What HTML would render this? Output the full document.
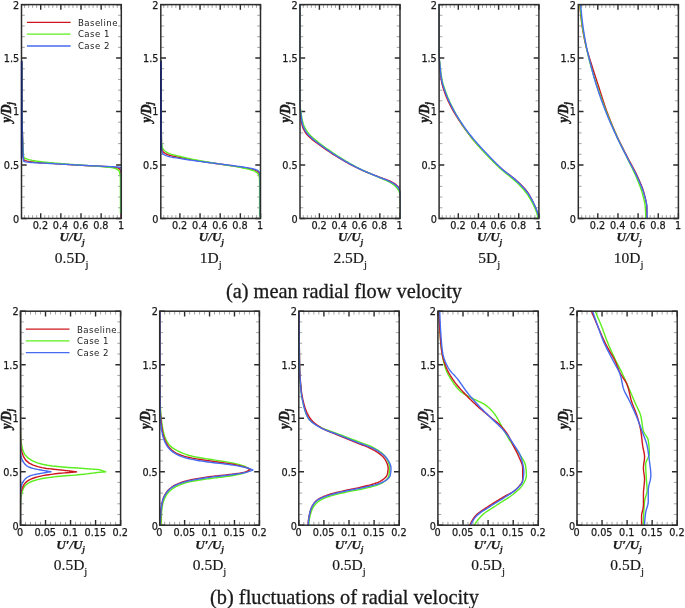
<!DOCTYPE html>
<html lang="en">
<head>
<meta charset="utf-8">
<title>Radial velocity profiles</title>
<style>
html,body{margin:0;padding:0;background:#fff;}
body{width:685px;height:608px;overflow:hidden;}
svg{display:block;}
svg text{fill:#1a1a1a;}
.tk{font-family:"DejaVu Sans", "Liberation Sans", sans-serif;font-size:9.7px;stroke:#1a1a1a;stroke-width:0.25px;}
.lg{font-family:"DejaVu Sans", "Liberation Sans", sans-serif;font-size:8.6px;letter-spacing:0.45px;}
.at{font-family:"Liberation Serif", "DejaVu Serif", serif;font-size:13.2px;font-weight:bold;font-style:italic;stroke:#1a1a1a;stroke-width:0.25px;}
.ay{font-family:"Liberation Serif", "DejaVu Serif", serif;font-size:12.4px;font-weight:bold;font-style:italic;stroke:#1a1a1a;stroke-width:0.45px;}
.sy{font-size:8.4px;}
.sb{font-size:8.2px;}
.lb{font-family:"Liberation Serif", "DejaVu Serif", serif;font-size:15.5px;stroke:#1a1a1a;stroke-width:0.2px;}
.ls{font-size:10.8px;}
.cp{font-family:"Liberation Serif", "DejaVu Serif", serif;font-size:20.35px;stroke:#1a1a1a;stroke-width:0.3px;}
</style>
</head>
<body>
<svg width="685" height="608" viewBox="0 0 685 608">
<rect width="685" height="608" fill="#fff"/>
<clipPath id="ct0"><rect x="20.9" y="4" width="101" height="215.05"/></clipPath>
<path d="M21.5 207.76h3.3M121.3 207.76h-3.3M21.5 197.06h3.3M121.3 197.06h-3.3M21.5 186.37h3.3M121.3 186.37h-3.3M21.5 175.68h3.3M121.3 175.68h-3.3M21.5 154.29h3.3M121.3 154.29h-3.3M21.5 143.6h3.3M121.3 143.6h-3.3M21.5 132.91h3.3M121.3 132.91h-3.3M21.5 122.22h3.3M121.3 122.22h-3.3M21.5 100.83h3.3M121.3 100.83h-3.3M21.5 90.14h3.3M121.3 90.14h-3.3M21.5 79.45h3.3M121.3 79.45h-3.3M21.5 68.75h3.3M121.3 68.75h-3.3M21.5 47.37h3.3M121.3 47.37h-3.3M21.5 36.68h3.3M121.3 36.68h-3.3M21.5 25.98h3.3M121.3 25.98h-3.3M21.5 15.29h3.3M121.3 15.29h-3.3M24.58 218.45v-3.3M24.58 4.6v3.3M28.61 218.45v-3.3M28.61 4.6v3.3M32.64 218.45v-3.3M32.64 4.6v3.3M36.67 218.45v-3.3M36.67 4.6v3.3M44.73 218.45v-3.3M44.73 4.6v3.3M48.76 218.45v-3.3M48.76 4.6v3.3M52.79 218.45v-3.3M52.79 4.6v3.3M56.82 218.45v-3.3M56.82 4.6v3.3M64.88 218.45v-3.3M64.88 4.6v3.3M68.91 218.45v-3.3M68.91 4.6v3.3M72.94 218.45v-3.3M72.94 4.6v3.3M76.97 218.45v-3.3M76.97 4.6v3.3M85.03 218.45v-3.3M85.03 4.6v3.3M89.06 218.45v-3.3M89.06 4.6v3.3M93.09 218.45v-3.3M93.09 4.6v3.3M97.12 218.45v-3.3M97.12 4.6v3.3M105.18 218.45v-3.3M105.18 4.6v3.3M109.21 218.45v-3.3M109.21 4.6v3.3M113.24 218.45v-3.3M113.24 4.6v3.3M117.27 218.45v-3.3M117.27 4.6v3.3" stroke="#9a9a9a" stroke-width="0.9" fill="none"/>
<path d="M21.5 218.45h5.2M121.3 218.45h-5.2M21.5 164.99h5.2M121.3 164.99h-5.2M21.5 111.52h5.2M121.3 111.52h-5.2M21.5 58.06h5.2M121.3 58.06h-5.2M21.5 4.6h5.2M121.3 4.6h-5.2M40.7 218.45v-5.2M40.7 4.6v5.2M60.85 218.45v-5.2M60.85 4.6v5.2M81 218.45v-5.2M81 4.6v5.2M101.15 218.45v-5.2M101.15 4.6v5.2M121.3 218.45v-5.2M121.3 4.6v5.2" stroke="#2c2c2c" stroke-width="1.4" fill="none"/>
<g clip-path="url(#ct0)" fill="none" stroke-width="1.4" stroke-linejoin="round" stroke-linecap="round">
<path d="M21.86 61.27 L21.86 62.52 L21.86 63.77 L21.86 65.02 L21.86 66.27 L21.86 67.51 L21.86 68.76 L21.86 70.01 L21.86 71.26 L21.86 72.51 L21.87 73.76 L21.87 75.01 L21.87 76.25 L21.87 77.5 L21.87 78.75 L21.87 80 L21.88 81.25 L21.88 82.5 L21.88 83.75 L21.88 84.99 L21.88 86.24 L21.89 87.49 L21.89 88.74 L21.89 89.99 L21.9 91.24 L21.9 92.49 L21.9 93.73 L21.91 94.98 L21.91 96.23 L21.91 97.48 L21.92 98.73 L21.92 99.98 L21.92 101.22 L21.93 102.47 L21.93 103.72 L21.94 104.97 L21.94 106.22 L21.94 107.47 L21.95 108.71 L21.95 109.96 L21.96 111.21 L21.97 112.46 L21.97 113.71 L21.99 114.96 L22 116.2 L22.02 117.45 L22.04 118.7 L22.06 119.95 L22.08 121.2 L22.11 122.45 L22.14 123.69 L22.17 124.94 L22.2 126.19 L22.23 127.44 L22.27 128.69 L22.3 129.94 L22.34 131.18 L22.38 132.43 L22.41 133.68 L22.45 134.93 L22.49 136.18 L22.53 137.42 L22.57 138.67 L22.62 139.92 L22.66 141.17 L22.7 142.42 L22.74 143.66 L22.78 144.91 L22.83 146.16 L22.88 147.41 L22.93 148.66 L22.98 149.91 L23.05 151.15 L23.11 152.4 L23.18 153.65 L23.26 154.89 L23.35 156.13 L23.46 157.38 L23.61 158.62 L23.77 159.86 L25.5 160.59 L27.25 161.17 L29.05 161.52 L30.88 161.79 L32.73 162.02 L34.58 162.21 L36.43 162.39 L38.27 162.54 L40.12 162.69 L41.97 162.82 L43.82 162.94 L45.67 163.06 L47.52 163.17 L49.37 163.29 L51.22 163.41 L53.07 163.54 L54.91 163.66 L56.76 163.78 L58.61 163.9 L60.46 164.03 L62.31 164.14 L64.16 164.26 L66.01 164.38 L67.86 164.5 L69.71 164.62 L71.56 164.73 L73.41 164.85 L75.26 164.96 L77.11 165.07 L78.96 165.19 L80.81 165.3 L82.66 165.4 L84.51 165.51 L86.36 165.6 L88.21 165.69 L90.06 165.78 L91.92 165.87 L93.77 165.95 L95.62 166.04 L97.47 166.13 L99.32 166.23 L101.18 166.32 L103.03 166.43 L104.87 166.55 L106.72 166.67 L108.57 166.8 L110.41 166.95 L112.27 167.11 L114.18 167.28 L116.04 167.52 L117.76 167.87 L119.51 168.81 L120.42 170.21 L120.79 171.94 L121.02 173.9 L121.1 175.83 L121.1 177.67 L121.1 179.51 L121.1 181.36 L121.1 183.2 L121.1 185.05 L121.1 186.89 L121.1 188.74 L121.1 190.59 L121.1 192.44 L121.1 194.29 L121.1 196.14 L121.1 197.99 L121.1 199.84 L121.1 201.7 L121.1 203.55 L121.1 205.41 L121.1 207.27 L121.1 209.13 L121.1 210.99 L121.1 212.85 L121.1 214.72 L121.1 216.58 L121.1 218.45" stroke="#cc161d"/>
<path d="M21.86 61.27 L21.86 62.49 L21.86 63.72 L21.86 64.94 L21.86 66.16 L21.86 67.39 L21.86 68.61 L21.86 69.83 L21.86 71.06 L21.86 72.28 L21.87 73.5 L21.87 74.73 L21.87 75.95 L21.87 77.17 L21.87 78.4 L21.87 79.62 L21.88 80.84 L21.88 82.07 L21.88 83.29 L21.88 84.51 L21.88 85.74 L21.89 86.96 L21.89 88.18 L21.89 89.41 L21.89 90.63 L21.9 91.85 L21.9 93.08 L21.9 94.3 L21.91 95.52 L21.91 96.74 L21.91 97.97 L21.92 99.19 L21.92 100.41 L21.92 101.64 L21.93 102.86 L21.93 104.08 L21.94 105.31 L21.94 106.53 L21.95 107.75 L21.95 108.98 L21.96 110.2 L21.96 111.42 L21.97 112.64 L21.97 113.87 L21.99 115.09 L22 116.31 L22.02 117.54 L22.03 118.76 L22.06 119.98 L22.08 121.21 L22.1 122.43 L22.13 123.65 L22.16 124.88 L22.19 126.1 L22.22 127.32 L22.25 128.54 L22.29 129.77 L22.32 130.99 L22.36 132.21 L22.4 133.44 L22.44 134.66 L22.48 135.88 L22.52 137.1 L22.56 138.33 L22.6 139.55 L22.64 140.77 L22.68 141.99 L22.73 143.22 L22.77 144.44 L22.82 145.66 L22.88 146.89 L22.94 148.11 L23.01 149.34 L23.08 150.56 L23.16 151.78 L23.26 152.99 L23.36 154.21 L23.52 155.42 L23.73 156.62 L23.98 157.82 L25.61 158.51 L27.26 159.12 L28.93 159.62 L30.63 160.05 L32.35 160.44 L34.09 160.77 L35.82 161.06 L37.56 161.31 L39.3 161.54 L41.04 161.75 L42.79 161.95 L44.54 162.14 L46.29 162.31 L48.05 162.48 L49.8 162.65 L51.55 162.81 L53.3 162.97 L55.05 163.13 L56.8 163.28 L58.56 163.42 L60.31 163.56 L62.06 163.69 L63.82 163.83 L65.57 163.96 L67.32 164.09 L69.08 164.22 L70.83 164.34 L72.59 164.47 L74.34 164.6 L76.09 164.73 L77.85 164.86 L79.6 164.99 L81.36 165.12 L83.11 165.25 L84.87 165.38 L86.62 165.5 L88.38 165.61 L90.13 165.73 L91.89 165.85 L93.65 165.96 L95.4 166.09 L97.16 166.21 L98.91 166.35 L100.66 166.49 L102.41 166.65 L104.16 166.81 L105.91 166.99 L107.67 167.18 L109.47 167.37 L111.26 167.6 L113.01 167.88 L114.66 168.25 L116.28 168.81 L117.94 169.83 L119.14 171.1 L119.65 172.52 L120.04 174.25 L120.3 176.12 L120.39 177.93 L120.41 179.68 L120.42 181.42 L120.43 183.16 L120.44 184.91 L120.45 186.66 L120.45 188.41 L120.46 190.16 L120.47 191.91 L120.47 193.67 L120.48 195.42 L120.48 197.18 L120.48 198.94 L120.49 200.7 L120.49 202.47 L120.49 204.24 L120.49 206 L120.49 207.78 L120.49 209.55 L120.49 211.32 L120.49 213.1" stroke="#5cee1e"/>
<path d="M21.86 61.27 L21.86 62.54 L21.86 63.8 L21.86 65.07 L21.86 66.33 L21.86 67.6 L21.86 68.87 L21.86 70.13 L21.86 71.4 L21.86 72.67 L21.87 73.93 L21.87 75.2 L21.87 76.46 L21.87 77.73 L21.87 79 L21.87 80.26 L21.88 81.53 L21.88 82.79 L21.88 84.06 L21.88 85.33 L21.89 86.59 L21.89 87.86 L21.89 89.12 L21.89 90.39 L21.9 91.66 L21.9 92.92 L21.9 94.19 L21.91 95.45 L21.91 96.72 L21.91 97.98 L21.92 99.25 L21.92 100.52 L21.93 101.78 L21.93 103.05 L21.93 104.31 L21.94 105.58 L21.94 106.85 L21.95 108.11 L21.95 109.38 L21.96 110.64 L21.96 111.91 L21.97 113.17 L21.98 114.44 L21.99 115.71 L22.01 116.97 L22.03 118.24 L22.05 119.5 L22.08 120.77 L22.1 122.03 L22.13 123.3 L22.16 124.57 L22.19 125.83 L22.23 127.1 L22.26 128.36 L22.3 129.63 L22.33 130.89 L22.37 132.16 L22.41 133.43 L22.45 134.69 L22.49 135.96 L22.53 137.22 L22.57 138.49 L22.61 139.75 L22.65 141.02 L22.69 142.28 L22.73 143.55 L22.78 144.81 L22.82 146.08 L22.87 147.34 L22.92 148.61 L22.98 149.87 L23.03 151.14 L23.09 152.4 L23.16 153.67 L23.22 154.93 L23.29 156.2 L23.37 157.46 L23.46 158.72 L23.56 159.98 L23.67 161.25 L25.45 161.86 L27.27 162.1 L29.11 162.3 L30.96 162.46 L32.82 162.61 L34.69 162.73 L36.57 162.84 L38.46 162.93 L40.35 163.01 L42.24 163.09 L44.14 163.17 L46.03 163.25 L47.92 163.34 L49.8 163.43 L51.67 163.54 L53.55 163.66 L55.42 163.77 L57.29 163.88 L59.17 163.99 L61.04 164.1 L62.92 164.2 L64.79 164.31 L66.66 164.42 L68.54 164.52 L70.41 164.63 L72.29 164.73 L74.16 164.83 L76.03 164.94 L77.91 165.04 L79.78 165.14 L81.66 165.24 L83.53 165.33 L85.41 165.43 L87.28 165.52 L89.16 165.61 L91.03 165.7 L92.91 165.79 L94.78 165.88 L96.66 165.97 L98.53 166.06 L100.41 166.15 L102.28 166.24 L104.16 166.34 L106.03 166.43 L107.91 166.52 L109.78 166.62 L111.65 166.72 L113.54 166.8 L115.43 166.88 L117.3 166.99 L119.18 167.18 L120.91 167.78 L121.28 169.41 L121.4 171.52 L121.4 173.39 L121.4 175.25 L121.4 177.12 L121.4 178.99 L121.4 180.86 L121.4 182.73 L121.4 184.6 L121.4 186.47 L121.4 188.34 L121.4 190.21 L121.4 192.09 L121.4 193.96 L121.4 195.84 L121.4 197.71 L121.4 199.59 L121.4 201.47 L121.4 203.35 L121.4 205.23 L121.4 207.12 L121.4 209 L121.4 210.89 L121.4 212.78 L121.4 214.67 L121.4 216.56 L121.4 218.45" stroke="#466af0"/>
</g>
<rect x="21.5" y="4.6" width="99.8" height="213.85" fill="none" stroke="#2c2c2c" stroke-width="1.5"/>
<path d="M21.6 61.27V158.57" stroke="#1a2260" stroke-width="1.5" fill="none"/>
<text x="19.2" y="8.5" text-anchor="end" class="tk">2</text>
<text x="19.2" y="61.96" text-anchor="end" class="tk">1.5</text>
<text x="19.2" y="115.42" text-anchor="end" class="tk">1</text>
<text x="19.2" y="168.89" text-anchor="end" class="tk">0.5</text>
<text x="19.2" y="222.65" text-anchor="end" class="tk">0</text>
<text x="40.4" y="229.45" text-anchor="middle" class="tk">0.2</text>
<text x="60.55" y="229.45" text-anchor="middle" class="tk">0.4</text>
<text x="80.7" y="229.45" text-anchor="middle" class="tk">0.6</text>
<text x="100.85" y="229.45" text-anchor="middle" class="tk">0.8</text>
<text x="121" y="229.45" text-anchor="middle" class="tk">1</text>
<text x="72" y="241.45" text-anchor="middle" class="at">U/U<tspan class="sb" dy="3.2">j</tspan></text>
<text transform="translate(11.4 112.32) rotate(-90) scale(1 1.2)" text-anchor="middle" class="ay">y/D<tspan class="sy" dy="2.2">j</tspan></text>
<text x="71.6" y="263.45" text-anchor="middle" class="lb">0.5D<tspan class="ls" dy="4.6">j</tspan></text>
<clipPath id="ct1"><rect x="160.2" y="4" width="100.9" height="215.05"/></clipPath>
<path d="M160.8 207.76h3.3M260.5 207.76h-3.3M160.8 197.06h3.3M260.5 197.06h-3.3M160.8 186.37h3.3M260.5 186.37h-3.3M160.8 175.68h3.3M260.5 175.68h-3.3M160.8 154.29h3.3M260.5 154.29h-3.3M160.8 143.6h3.3M260.5 143.6h-3.3M160.8 132.91h3.3M260.5 132.91h-3.3M160.8 122.22h3.3M260.5 122.22h-3.3M160.8 100.83h3.3M260.5 100.83h-3.3M160.8 90.14h3.3M260.5 90.14h-3.3M160.8 79.45h3.3M260.5 79.45h-3.3M160.8 68.75h3.3M260.5 68.75h-3.3M160.8 47.37h3.3M260.5 47.37h-3.3M160.8 36.68h3.3M260.5 36.68h-3.3M160.8 25.98h3.3M260.5 25.98h-3.3M160.8 15.29h3.3M260.5 15.29h-3.3M163.78 218.45v-3.3M163.78 4.6v3.3M167.81 218.45v-3.3M167.81 4.6v3.3M171.84 218.45v-3.3M171.84 4.6v3.3M175.87 218.45v-3.3M175.87 4.6v3.3M183.93 218.45v-3.3M183.93 4.6v3.3M187.96 218.45v-3.3M187.96 4.6v3.3M191.99 218.45v-3.3M191.99 4.6v3.3M196.02 218.45v-3.3M196.02 4.6v3.3M204.08 218.45v-3.3M204.08 4.6v3.3M208.11 218.45v-3.3M208.11 4.6v3.3M212.14 218.45v-3.3M212.14 4.6v3.3M216.17 218.45v-3.3M216.17 4.6v3.3M224.23 218.45v-3.3M224.23 4.6v3.3M228.26 218.45v-3.3M228.26 4.6v3.3M232.29 218.45v-3.3M232.29 4.6v3.3M236.32 218.45v-3.3M236.32 4.6v3.3M244.38 218.45v-3.3M244.38 4.6v3.3M248.41 218.45v-3.3M248.41 4.6v3.3M252.44 218.45v-3.3M252.44 4.6v3.3M256.47 218.45v-3.3M256.47 4.6v3.3" stroke="#9a9a9a" stroke-width="0.9" fill="none"/>
<path d="M160.8 218.45h5.2M260.5 218.45h-5.2M160.8 164.99h5.2M260.5 164.99h-5.2M160.8 111.52h5.2M260.5 111.52h-5.2M160.8 58.06h5.2M260.5 58.06h-5.2M160.8 4.6h5.2M260.5 4.6h-5.2M179.9 218.45v-5.2M179.9 4.6v5.2M200.05 218.45v-5.2M200.05 4.6v5.2M220.2 218.45v-5.2M220.2 4.6v5.2M240.35 218.45v-5.2M240.35 4.6v5.2M260.5 218.45v-5.2M260.5 4.6v5.2" stroke="#2c2c2c" stroke-width="1.4" fill="none"/>
<g clip-path="url(#ct1)" fill="none" stroke-width="1.4" stroke-linejoin="round" stroke-linecap="round">
<path d="M161.26 61.27 L161.26 62.73 L161.26 64.2 L161.26 65.66 L161.26 67.13 L161.26 68.59 L161.26 70.06 L161.26 71.52 L161.26 72.99 L161.26 74.45 L161.26 75.92 L161.26 77.38 L161.26 78.85 L161.26 80.31 L161.26 81.77 L161.26 83.24 L161.26 84.7 L161.26 86.17 L161.26 87.63 L161.26 89.1 L161.26 90.56 L161.26 92.03 L161.26 93.49 L161.26 94.96 L161.26 96.42 L161.26 97.89 L161.26 99.35 L161.26 100.81 L161.26 102.28 L161.26 103.74 L161.26 105.21 L161.26 106.67 L161.26 108.14 L161.26 109.6 L161.26 111.07 L161.26 112.53 L161.26 114 L161.26 115.46 L161.27 116.93 L161.27 118.4 L161.27 119.87 L161.28 121.33 L161.28 122.8 L161.29 124.27 L161.29 125.74 L161.3 127.2 L161.31 128.67 L161.32 130.14 L161.33 131.6 L161.34 133.07 L161.35 134.53 L161.37 136 L161.38 137.46 L161.4 138.92 L161.42 140.38 L161.44 141.83 L161.46 143.29 L161.51 144.78 L161.64 146.35 L161.86 147.9 L162.14 149.35 L162.48 150.61 L163.05 151.67 L164.12 152.66 L165.49 153.53 L166.95 154.25 L168.29 154.8 L169.62 155.25 L171.01 155.65 L172.43 156 L173.88 156.32 L175.35 156.62 L176.82 156.9 L178.28 157.18 L179.73 157.47 L181.16 157.76 L182.6 158.05 L184.03 158.33 L185.47 158.61 L186.91 158.88 L188.35 159.14 L189.79 159.4 L191.24 159.66 L192.68 159.91 L194.13 160.15 L195.57 160.4 L197.02 160.64 L198.46 160.88 L199.91 161.11 L201.35 161.35 L202.8 161.58 L204.24 161.8 L205.69 162.02 L207.14 162.24 L208.59 162.45 L210.04 162.67 L211.49 162.88 L212.94 163.09 L214.39 163.29 L215.84 163.5 L217.29 163.71 L218.74 163.92 L220.19 164.13 L221.64 164.34 L223.09 164.54 L224.54 164.74 L225.99 164.94 L227.44 165.13 L228.9 165.33 L230.35 165.52 L231.8 165.72 L233.25 165.93 L234.7 166.13 L236.15 166.35 L237.6 166.57 L239.04 166.8 L240.48 167.04 L241.93 167.28 L243.39 167.52 L244.85 167.77 L246.3 168.02 L247.75 168.3 L249.19 168.59 L250.62 168.92 L252.02 169.28 L253.4 169.68 L254.83 170.16 L256.26 170.77 L257.45 171.52 L258.36 172.53 L259.12 173.89 L259.51 175.31 L259.68 176.72 L259.8 178.19 L259.87 179.68 L259.9 181.16 L259.9 182.62 L259.9 184.09 L259.9 185.55 L259.9 187.01 L259.9 188.47 L259.9 189.94 L259.9 191.4 L259.9 192.86 L259.9 194.33 L259.9 195.79 L259.9 197.26 L259.9 198.72 L259.9 200.19 L259.9 201.65 L259.9 203.12 L259.9 204.58 L259.9 206.05 L259.9 207.51 L259.9 208.98 L259.9 210.44 L259.9 211.91 L259.9 213.38 L259.9 214.84 L259.9 216.31" stroke="#cc161d"/>
<path d="M161.26 61.27 L161.26 62.72 L161.26 64.16 L161.26 65.61 L161.26 67.05 L161.26 68.5 L161.26 69.94 L161.26 71.39 L161.26 72.84 L161.26 74.28 L161.26 75.73 L161.26 77.17 L161.26 78.62 L161.26 80.06 L161.26 81.51 L161.26 82.96 L161.26 84.4 L161.26 85.85 L161.26 87.29 L161.26 88.74 L161.26 90.18 L161.26 91.63 L161.26 93.08 L161.26 94.52 L161.26 95.97 L161.26 97.41 L161.26 98.86 L161.26 100.3 L161.26 101.75 L161.26 103.2 L161.26 104.64 L161.26 106.09 L161.26 107.53 L161.26 108.98 L161.26 110.42 L161.26 111.87 L161.26 113.32 L161.26 114.76 L161.27 116.21 L161.27 117.66 L161.27 119.11 L161.28 120.56 L161.28 122.01 L161.29 123.46 L161.3 124.91 L161.31 126.35 L161.32 127.8 L161.33 129.25 L161.34 130.7 L161.35 132.14 L161.37 133.58 L161.39 135.03 L161.4 136.47 L161.42 137.91 L161.45 139.34 L161.47 140.78 L161.56 142.27 L161.74 143.8 L161.98 145.3 L162.28 146.72 L162.64 148 L163.14 149.14 L164.05 150.23 L165.25 151.24 L166.57 152.12 L167.84 152.81 L169.09 153.38 L170.4 153.89 L171.76 154.34 L173.16 154.76 L174.59 155.14 L176.03 155.5 L177.48 155.84 L178.91 156.19 L180.31 156.54 L181.71 156.88 L183.12 157.22 L184.53 157.55 L185.94 157.86 L187.35 158.17 L188.76 158.48 L190.18 158.77 L191.6 159.07 L193.02 159.35 L194.44 159.63 L195.86 159.91 L197.28 160.18 L198.7 160.45 L200.12 160.72 L201.54 160.99 L202.96 161.25 L204.38 161.5 L205.81 161.75 L207.23 161.99 L208.66 162.23 L210.08 162.47 L211.51 162.7 L212.94 162.94 L214.36 163.17 L215.79 163.4 L217.22 163.64 L218.64 163.87 L220.07 164.11 L221.5 164.35 L222.93 164.58 L224.35 164.8 L225.78 165.02 L227.21 165.24 L228.64 165.46 L230.07 165.68 L231.5 165.9 L232.93 166.13 L234.36 166.37 L235.78 166.61 L237.21 166.86 L238.63 167.12 L240.04 167.39 L241.46 167.67 L242.89 167.95 L244.32 168.23 L245.75 168.53 L247.17 168.85 L248.58 169.19 L249.97 169.56 L251.34 169.97 L252.69 170.42 L254.09 170.95 L255.46 171.59 L256.66 172.34 L257.64 173.27 L258.54 174.51 L259.12 175.87 L259.32 177.23 L259.45 178.67 L259.55 180.14 L259.59 181.61 L259.59 183.06 L259.59 184.5 L259.59 185.95 L259.59 187.39 L259.59 188.84 L259.59 190.28 L259.59 191.72 L259.59 193.17 L259.59 194.61 L259.59 196.06 L259.59 197.5 L259.59 198.95 L259.59 200.39 L259.59 201.84 L259.59 203.29 L259.59 204.73 L259.59 206.18 L259.59 207.63 L259.59 209.07 L259.59 210.52 L259.59 211.97 L259.59 213.41 L259.59 214.86 L259.59 216.31" stroke="#5cee1e"/>
<path d="M161.26 61.27 L161.26 62.75 L161.26 64.24 L161.26 65.72 L161.26 67.2 L161.26 68.69 L161.26 70.17 L161.26 71.65 L161.26 73.14 L161.26 74.62 L161.26 76.1 L161.26 77.59 L161.26 79.07 L161.26 80.55 L161.26 82.03 L161.26 83.52 L161.26 85 L161.26 86.48 L161.26 87.97 L161.26 89.45 L161.26 90.93 L161.26 92.42 L161.26 93.9 L161.26 95.38 L161.26 96.87 L161.26 98.35 L161.26 99.83 L161.26 101.32 L161.26 102.8 L161.26 104.28 L161.26 105.77 L161.26 107.25 L161.26 108.73 L161.26 110.22 L161.26 111.7 L161.26 113.18 L161.26 114.67 L161.26 116.15 L161.27 117.63 L161.27 119.12 L161.27 120.6 L161.28 122.09 L161.28 123.57 L161.29 125.06 L161.29 126.54 L161.3 128.03 L161.31 129.51 L161.32 131 L161.33 132.48 L161.34 133.96 L161.35 135.45 L161.36 136.93 L161.38 138.41 L161.39 139.89 L161.41 141.37 L161.42 142.85 L161.44 144.33 L161.46 145.81 L161.52 147.37 L161.63 149.01 L161.8 150.59 L162.03 152 L162.31 153.12 L163.08 154.06 L164.4 154.89 L165.98 155.59 L167.53 156.13 L168.91 156.53 L170.32 156.88 L171.76 157.17 L173.23 157.44 L174.72 157.68 L176.21 157.9 L177.7 158.12 L179.18 158.35 L180.64 158.59 L182.11 158.83 L183.57 159.06 L185.03 159.29 L186.5 159.52 L187.97 159.74 L189.43 159.96 L190.9 160.17 L192.37 160.38 L193.84 160.59 L195.31 160.8 L196.78 161.01 L198.25 161.21 L199.72 161.41 L201.18 161.61 L202.65 161.81 L204.13 162 L205.6 162.19 L207.07 162.38 L208.54 162.56 L210.01 162.75 L211.48 162.93 L212.96 163.11 L214.43 163.29 L215.9 163.48 L217.37 163.66 L218.84 163.85 L220.31 164.04 L221.78 164.23 L223.26 164.42 L224.73 164.6 L226.2 164.79 L227.67 164.98 L229.14 165.16 L230.61 165.35 L232.09 165.54 L233.56 165.74 L235.03 165.94 L236.49 166.14 L237.96 166.35 L239.43 166.56 L240.9 166.78 L242.37 166.99 L243.84 167.21 L245.32 167.42 L246.79 167.64 L248.26 167.88 L249.72 168.14 L251.18 168.42 L252.61 168.74 L254.05 169.1 L255.56 169.53 L256.99 170.07 L258.13 170.77 L259.11 171.92 L259.75 173.33 L259.95 174.73 L260.09 176.22 L260.18 177.73 L260.2 179.23 L260.2 180.71 L260.2 182.19 L260.2 183.67 L260.2 185.15 L260.2 186.64 L260.2 188.12 L260.2 189.6 L260.2 191.08 L260.2 192.56 L260.2 194.05 L260.2 195.53 L260.2 197.01 L260.2 198.49 L260.2 199.98 L260.2 201.46 L260.2 202.94 L260.2 204.43 L260.2 205.91 L260.2 207.4 L260.2 208.88 L260.2 210.37 L260.2 211.85 L260.2 213.34 L260.2 214.82 L260.2 216.31" stroke="#466af0"/>
</g>
<rect x="160.8" y="4.6" width="99.7" height="213.85" fill="none" stroke="#2c2c2c" stroke-width="1.5"/>
<path d="M160.9 61.27V150.02" stroke="#1a2260" stroke-width="1.5" fill="none"/>
<text x="158.5" y="8.5" text-anchor="end" class="tk">2</text>
<text x="158.5" y="61.96" text-anchor="end" class="tk">1.5</text>
<text x="158.5" y="115.42" text-anchor="end" class="tk">1</text>
<text x="158.5" y="168.89" text-anchor="end" class="tk">0.5</text>
<text x="158.5" y="222.65" text-anchor="end" class="tk">0</text>
<text x="179.6" y="229.45" text-anchor="middle" class="tk">0.2</text>
<text x="199.75" y="229.45" text-anchor="middle" class="tk">0.4</text>
<text x="219.9" y="229.45" text-anchor="middle" class="tk">0.6</text>
<text x="240.05" y="229.45" text-anchor="middle" class="tk">0.8</text>
<text x="260.2" y="229.45" text-anchor="middle" class="tk">1</text>
<text x="211.25" y="241.45" text-anchor="middle" class="at">U/U<tspan class="sb" dy="3.2">j</tspan></text>
<text transform="translate(150.7 112.32) rotate(-90) scale(1 1.2)" text-anchor="middle" class="ay">y/D<tspan class="sy" dy="2.2">j</tspan></text>
<text x="210.85" y="263.45" text-anchor="middle" class="lb">1D<tspan class="ls" dy="4.6">j</tspan></text>
<clipPath id="ct2"><rect x="299.4" y="4" width="101.2" height="215.05"/></clipPath>
<path d="M300 207.76h3.3M400 207.76h-3.3M300 197.06h3.3M400 197.06h-3.3M300 186.37h3.3M400 186.37h-3.3M300 175.68h3.3M400 175.68h-3.3M300 154.29h3.3M400 154.29h-3.3M300 143.6h3.3M400 143.6h-3.3M300 132.91h3.3M400 132.91h-3.3M300 122.22h3.3M400 122.22h-3.3M300 100.83h3.3M400 100.83h-3.3M300 90.14h3.3M400 90.14h-3.3M300 79.45h3.3M400 79.45h-3.3M300 68.75h3.3M400 68.75h-3.3M300 47.37h3.3M400 47.37h-3.3M300 36.68h3.3M400 36.68h-3.3M300 25.98h3.3M400 25.98h-3.3M300 15.29h3.3M400 15.29h-3.3M303.28 218.45v-3.3M303.28 4.6v3.3M307.31 218.45v-3.3M307.31 4.6v3.3M311.34 218.45v-3.3M311.34 4.6v3.3M315.37 218.45v-3.3M315.37 4.6v3.3M323.43 218.45v-3.3M323.43 4.6v3.3M327.46 218.45v-3.3M327.46 4.6v3.3M331.49 218.45v-3.3M331.49 4.6v3.3M335.52 218.45v-3.3M335.52 4.6v3.3M343.58 218.45v-3.3M343.58 4.6v3.3M347.61 218.45v-3.3M347.61 4.6v3.3M351.64 218.45v-3.3M351.64 4.6v3.3M355.67 218.45v-3.3M355.67 4.6v3.3M363.73 218.45v-3.3M363.73 4.6v3.3M367.76 218.45v-3.3M367.76 4.6v3.3M371.79 218.45v-3.3M371.79 4.6v3.3M375.82 218.45v-3.3M375.82 4.6v3.3M383.88 218.45v-3.3M383.88 4.6v3.3M387.91 218.45v-3.3M387.91 4.6v3.3M391.94 218.45v-3.3M391.94 4.6v3.3M395.97 218.45v-3.3M395.97 4.6v3.3" stroke="#9a9a9a" stroke-width="0.9" fill="none"/>
<path d="M300 218.45h5.2M400 218.45h-5.2M300 164.99h5.2M400 164.99h-5.2M300 111.52h5.2M400 111.52h-5.2M300 58.06h5.2M400 58.06h-5.2M300 4.6h5.2M400 4.6h-5.2M319.4 218.45v-5.2M319.4 4.6v5.2M339.55 218.45v-5.2M339.55 4.6v5.2M359.7 218.45v-5.2M359.7 4.6v5.2M379.85 218.45v-5.2M379.85 4.6v5.2M400 218.45v-5.2M400 4.6v5.2" stroke="#2c2c2c" stroke-width="1.4" fill="none"/>
<g clip-path="url(#ct2)" fill="none" stroke-width="1.4" stroke-linejoin="round" stroke-linecap="round">
<path d="M299.65 4.6 L299.65 6.3 L299.65 7.99 L299.65 9.69 L299.65 11.39 L299.65 13.08 L299.65 14.78 L299.65 16.47 L299.65 18.17 L299.65 19.87 L299.65 21.56 L299.65 23.26 L299.65 24.95 L299.65 26.64 L299.65 28.34 L299.65 30.03 L299.65 31.73 L299.65 33.42 L299.65 35.11 L299.65 36.81 L299.65 38.5 L299.65 40.2 L299.65 41.89 L299.65 43.58 L299.65 45.27 L299.65 46.97 L299.65 48.66 L299.65 50.35 L299.65 52.04 L299.65 53.74 L299.65 55.43 L299.65 57.12 L299.65 58.81 L299.65 60.5 L299.65 62.19 L299.65 63.88 L299.65 65.58 L299.65 67.27 L299.65 68.96 L299.65 70.65 L299.65 72.34 L299.65 74.03 L299.65 75.72 L299.65 77.41 L299.65 79.1 L299.65 80.79 L299.65 82.48 L299.65 84.17 L299.65 85.86 L299.65 87.55 L299.65 89.24 L299.65 90.93 L299.65 92.62 L299.65 94.31 L299.65 96 L299.65 97.69 L299.65 99.38 L299.65 101.06 L299.69 102.75 L299.77 104.44 L299.89 106.13 L300.04 107.82 L300.21 109.51 L300.39 111.19 L300.57 112.88 L300.74 114.56 L300.91 116.25 L301.08 117.95 L301.27 119.65 L301.48 121.34 L301.72 123 L302.02 124.64 L302.42 126.26 L302.99 127.88 L303.69 129.46 L304.48 130.99 L305.32 132.42 L306.27 133.76 L307.37 135.04 L308.58 136.27 L309.85 137.45 L311.12 138.59 L312.38 139.69 L313.7 140.75 L315.05 141.78 L316.42 142.77 L317.81 143.76 L319.19 144.74 L320.57 145.72 L321.95 146.7 L323.34 147.67 L324.73 148.64 L326.13 149.6 L327.53 150.55 L328.93 151.5 L330.34 152.44 L331.76 153.37 L333.18 154.29 L334.6 155.2 L336.04 156.11 L337.47 156.99 L338.92 157.87 L340.37 158.74 L341.82 159.6 L343.28 160.45 L344.75 161.3 L346.22 162.15 L347.7 162.98 L349.18 163.8 L350.67 164.61 L352.17 165.41 L353.67 166.2 L355.18 166.97 L356.69 167.72 L358.21 168.46 L359.74 169.17 L361.27 169.87 L362.82 170.55 L364.37 171.21 L365.93 171.86 L367.5 172.5 L369.08 173.12 L370.65 173.74 L372.24 174.35 L373.82 174.96 L375.4 175.57 L376.99 176.17 L378.57 176.78 L380.14 177.4 L381.73 177.99 L383.33 178.56 L384.94 179.13 L386.53 179.71 L388.1 180.33 L389.64 181 L391.17 181.73 L392.72 182.51 L394.21 183.37 L395.57 184.33 L396.8 185.44 L397.96 186.76 L398.86 188.2 L399.44 189.72 L399.92 191.37 L400.24 193.07 L400.34 194.75 L400.4 196.43 L400.45 198.13 L400.48 199.83 L400.5 201.53 L400.5 203.22 L400.5 204.91 L400.5 206.6 L400.5 208.3 L400.5 209.99 L400.5 211.68 L400.5 213.37 L400.5 215.06 L400.5 216.76 L400.5 218.45" stroke="#cc161d"/>
<path d="M299.65 4.6 L299.65 6.28 L299.65 7.97 L299.65 9.65 L299.65 11.34 L299.65 13.02 L299.65 14.7 L299.65 16.38 L299.65 18.06 L299.65 19.74 L299.65 21.42 L299.65 23.1 L299.65 24.78 L299.65 26.46 L299.65 28.14 L299.65 29.82 L299.65 31.5 L299.65 33.18 L299.65 34.85 L299.65 36.53 L299.65 38.21 L299.65 39.88 L299.65 41.56 L299.65 43.23 L299.65 44.91 L299.65 46.58 L299.65 48.26 L299.65 49.93 L299.65 51.61 L299.65 53.28 L299.65 54.95 L299.65 56.63 L299.65 58.3 L299.65 59.97 L299.65 61.64 L299.65 63.31 L299.65 64.99 L299.65 66.66 L299.65 68.33 L299.65 70 L299.65 71.67 L299.65 73.34 L299.65 75.01 L299.65 76.68 L299.65 78.35 L299.65 80.02 L299.65 81.69 L299.65 83.35 L299.65 85.02 L299.65 86.69 L299.65 88.36 L299.65 90.03 L299.65 91.69 L299.65 93.36 L299.65 95.03 L299.65 96.7 L299.65 98.36 L299.65 100.03 L299.67 101.7 L299.76 103.36 L299.92 105.03 L300.14 106.69 L300.39 108.35 L300.66 110.01 L300.93 111.67 L301.17 113.33 L301.41 114.99 L301.66 116.66 L301.94 118.32 L302.26 119.97 L302.62 121.59 L303.05 123.18 L303.6 124.76 L304.26 126.33 L304.99 127.86 L305.79 129.34 L306.62 130.75 L307.57 132.11 L308.64 133.43 L309.77 134.7 L310.93 135.91 L312.11 137.08 L313.33 138.21 L314.61 139.3 L315.92 140.36 L317.24 141.4 L318.57 142.43 L319.89 143.45 L321.22 144.46 L322.56 145.47 L323.9 146.47 L325.25 147.46 L326.61 148.45 L327.97 149.42 L329.35 150.39 L330.72 151.35 L332.11 152.3 L333.49 153.24 L334.89 154.17 L336.29 155.09 L337.69 156 L339.1 156.9 L340.51 157.79 L341.93 158.67 L343.35 159.55 L344.79 160.42 L346.22 161.28 L347.67 162.13 L349.12 162.98 L350.57 163.82 L352.03 164.64 L353.5 165.45 L354.97 166.26 L356.45 167.04 L357.93 167.82 L359.41 168.58 L360.9 169.33 L362.41 170.06 L363.92 170.77 L365.44 171.47 L366.96 172.16 L368.5 172.84 L370.03 173.51 L371.57 174.18 L373.11 174.85 L374.64 175.52 L376.18 176.19 L377.71 176.86 L379.24 177.54 L380.77 178.23 L382.32 178.89 L383.88 179.54 L385.43 180.2 L386.96 180.89 L388.46 181.62 L389.91 182.41 L391.34 183.27 L392.76 184.21 L394.12 185.23 L395.38 186.32 L396.52 187.5 L397.64 188.82 L398.58 190.24 L399.17 191.73 L399.62 193.33 L399.97 195.01 L400.18 196.69 L400.26 198.35 L400.31 200.02 L400.36 201.7 L400.39 203.38 L400.4 205.06 L400.4 206.73 L400.4 208.4 L400.4 210.08 L400.4 211.75 L400.4 213.43 L400.4 215.1 L400.4 216.78 L400.4 218.45" stroke="#5cee1e"/>
<path d="M299.65 4.6 L299.65 6.29 L299.65 7.98 L299.65 9.68 L299.65 11.37 L299.65 13.06 L299.65 14.75 L299.65 16.44 L299.65 18.13 L299.65 19.82 L299.65 21.51 L299.65 23.2 L299.65 24.89 L299.65 26.58 L299.65 28.27 L299.65 29.96 L299.65 31.65 L299.65 33.34 L299.65 35.02 L299.65 36.71 L299.65 38.4 L299.65 40.09 L299.65 41.77 L299.65 43.46 L299.65 45.15 L299.65 46.83 L299.65 48.52 L299.65 50.2 L299.65 51.89 L299.65 53.58 L299.65 55.26 L299.65 56.95 L299.65 58.63 L299.65 60.32 L299.65 62 L299.65 63.69 L299.65 65.37 L299.65 67.05 L299.65 68.74 L299.65 70.42 L299.65 72.11 L299.65 73.79 L299.65 75.47 L299.65 77.16 L299.65 78.84 L299.65 80.52 L299.65 82.2 L299.65 83.89 L299.65 85.57 L299.65 87.25 L299.65 88.93 L299.65 90.62 L299.65 92.3 L299.65 93.98 L299.65 95.66 L299.65 97.34 L299.65 99.03 L299.65 100.71 L299.68 102.39 L299.77 104.07 L299.91 105.75 L300.09 107.43 L300.29 109.11 L300.51 110.79 L300.72 112.46 L300.92 114.14 L301.11 115.82 L301.32 117.5 L301.54 119.19 L301.8 120.85 L302.11 122.5 L302.48 124.12 L302.98 125.74 L303.6 127.34 L304.31 128.9 L305.08 130.38 L305.92 131.78 L306.92 133.12 L308.04 134.41 L309.23 135.66 L310.45 136.86 L311.66 138.02 L312.91 139.14 L314.2 140.21 L315.54 141.26 L316.89 142.28 L318.25 143.29 L319.61 144.29 L320.96 145.29 L322.32 146.28 L323.69 147.27 L325.07 148.25 L326.45 149.22 L327.83 150.19 L329.23 151.14 L330.62 152.09 L332.03 153.03 L333.44 153.96 L334.85 154.88 L336.27 155.78 L337.7 156.68 L339.13 157.57 L340.57 158.44 L342.01 159.31 L343.46 160.17 L344.91 161.03 L346.37 161.87 L347.84 162.71 L349.32 163.54 L350.8 164.35 L352.28 165.16 L353.77 165.95 L355.27 166.73 L356.77 167.5 L358.27 168.25 L359.79 168.98 L361.31 169.7 L362.83 170.4 L364.37 171.09 L365.92 171.76 L367.47 172.42 L369.02 173.08 L370.58 173.72 L372.15 174.36 L373.71 175 L375.28 175.63 L376.84 176.27 L378.4 176.9 L379.96 177.54 L381.54 178.17 L383.12 178.76 L384.71 179.36 L386.29 179.96 L387.84 180.6 L389.37 181.29 L390.87 182.04 L392.39 182.85 L393.86 183.73 L395.23 184.69 L396.47 185.77 L397.66 187.02 L398.66 188.41 L399.36 189.89 L399.95 191.5 L400.34 193.17 L400.45 194.83 L400.51 196.5 L400.56 198.19 L400.59 199.89 L400.6 201.59 L400.6 203.28 L400.6 204.96 L400.6 206.65 L400.6 208.33 L400.6 210.02 L400.6 211.7 L400.6 213.39 L400.6 215.08 L400.6 216.76 L400.6 218.45" stroke="#466af0"/>
</g>
<rect x="300" y="4.6" width="100" height="213.85" fill="none" stroke="#2c2c2c" stroke-width="1.5"/>
<text x="297.7" y="8.5" text-anchor="end" class="tk">2</text>
<text x="297.7" y="61.96" text-anchor="end" class="tk">1.5</text>
<text x="297.7" y="115.42" text-anchor="end" class="tk">1</text>
<text x="297.7" y="168.89" text-anchor="end" class="tk">0.5</text>
<text x="297.7" y="222.65" text-anchor="end" class="tk">0</text>
<text x="319.1" y="229.45" text-anchor="middle" class="tk">0.2</text>
<text x="339.25" y="229.45" text-anchor="middle" class="tk">0.4</text>
<text x="359.4" y="229.45" text-anchor="middle" class="tk">0.6</text>
<text x="379.55" y="229.45" text-anchor="middle" class="tk">0.8</text>
<text x="399.7" y="229.45" text-anchor="middle" class="tk">1</text>
<text x="350.6" y="241.45" text-anchor="middle" class="at">U/U<tspan class="sb" dy="3.2">j</tspan></text>
<text transform="translate(289.9 112.32) rotate(-90) scale(1 1.2)" text-anchor="middle" class="ay">y/D<tspan class="sy" dy="2.2">j</tspan></text>
<text x="350.2" y="263.45" text-anchor="middle" class="lb">2.5D<tspan class="ls" dy="4.6">j</tspan></text>
<clipPath id="ct3"><rect x="438.5" y="4" width="101" height="215.05"/></clipPath>
<path d="M439.1 207.76h3.3M538.9 207.76h-3.3M439.1 197.06h3.3M538.9 197.06h-3.3M439.1 186.37h3.3M538.9 186.37h-3.3M439.1 175.68h3.3M538.9 175.68h-3.3M439.1 154.29h3.3M538.9 154.29h-3.3M439.1 143.6h3.3M538.9 143.6h-3.3M439.1 132.91h3.3M538.9 132.91h-3.3M439.1 122.22h3.3M538.9 122.22h-3.3M439.1 100.83h3.3M538.9 100.83h-3.3M439.1 90.14h3.3M538.9 90.14h-3.3M439.1 79.45h3.3M538.9 79.45h-3.3M439.1 68.75h3.3M538.9 68.75h-3.3M439.1 47.37h3.3M538.9 47.37h-3.3M439.1 36.68h3.3M538.9 36.68h-3.3M439.1 25.98h3.3M538.9 25.98h-3.3M439.1 15.29h3.3M538.9 15.29h-3.3M442.18 218.45v-3.3M442.18 4.6v3.3M446.21 218.45v-3.3M446.21 4.6v3.3M450.24 218.45v-3.3M450.24 4.6v3.3M454.27 218.45v-3.3M454.27 4.6v3.3M462.33 218.45v-3.3M462.33 4.6v3.3M466.36 218.45v-3.3M466.36 4.6v3.3M470.39 218.45v-3.3M470.39 4.6v3.3M474.42 218.45v-3.3M474.42 4.6v3.3M482.48 218.45v-3.3M482.48 4.6v3.3M486.51 218.45v-3.3M486.51 4.6v3.3M490.54 218.45v-3.3M490.54 4.6v3.3M494.57 218.45v-3.3M494.57 4.6v3.3M502.63 218.45v-3.3M502.63 4.6v3.3M506.66 218.45v-3.3M506.66 4.6v3.3M510.69 218.45v-3.3M510.69 4.6v3.3M514.72 218.45v-3.3M514.72 4.6v3.3M522.78 218.45v-3.3M522.78 4.6v3.3M526.81 218.45v-3.3M526.81 4.6v3.3M530.84 218.45v-3.3M530.84 4.6v3.3M534.87 218.45v-3.3M534.87 4.6v3.3" stroke="#9a9a9a" stroke-width="0.9" fill="none"/>
<path d="M439.1 218.45h5.2M538.9 218.45h-5.2M439.1 164.99h5.2M538.9 164.99h-5.2M439.1 111.52h5.2M538.9 111.52h-5.2M439.1 58.06h5.2M538.9 58.06h-5.2M439.1 4.6h5.2M538.9 4.6h-5.2M458.3 218.45v-5.2M458.3 4.6v5.2M478.45 218.45v-5.2M478.45 4.6v5.2M498.6 218.45v-5.2M498.6 4.6v5.2M518.75 218.45v-5.2M518.75 4.6v5.2M538.9 218.45v-5.2M538.9 4.6v5.2" stroke="#2c2c2c" stroke-width="1.4" fill="none"/>
<g clip-path="url(#ct3)" fill="none" stroke-width="1.4" stroke-linejoin="round" stroke-linecap="round">
<path d="M438.55 4.6 L438.55 6.16 L438.55 7.73 L438.55 9.29 L438.55 10.85 L438.55 12.42 L438.55 13.98 L438.55 15.54 L438.55 17.11 L438.55 18.67 L438.55 20.23 L438.55 21.79 L438.55 23.35 L438.55 24.91 L438.55 26.47 L438.55 28.03 L438.55 29.6 L438.55 31.16 L438.55 32.72 L438.55 34.28 L438.55 35.84 L438.55 37.4 L438.55 38.96 L438.55 40.51 L438.55 42.07 L438.55 43.63 L438.55 45.19 L438.55 46.75 L438.55 48.31 L438.55 49.87 L438.58 51.43 L438.65 52.98 L438.75 54.54 L438.87 56.1 L439 57.66 L439.15 59.21 L439.31 60.77 L439.46 62.32 L439.61 63.88 L439.74 65.43 L439.88 66.99 L440.01 68.55 L440.15 70.11 L440.3 71.68 L440.45 73.23 L440.62 74.79 L440.79 76.34 L440.99 77.88 L441.21 79.42 L441.44 80.94 L441.73 82.47 L442.08 83.99 L442.47 85.5 L442.9 87.01 L443.36 88.52 L443.85 90.01 L444.36 91.5 L444.89 92.97 L445.42 94.43 L445.96 95.89 L446.53 97.33 L447.14 98.76 L447.78 100.19 L448.44 101.61 L449.13 103.02 L449.84 104.42 L450.56 105.81 L451.29 107.2 L452.03 108.57 L452.77 109.94 L453.52 111.31 L454.29 112.66 L455.08 114.01 L455.89 115.35 L456.71 116.68 L457.54 118 L458.38 119.32 L459.24 120.63 L460.1 121.94 L460.97 123.23 L461.84 124.52 L462.72 125.81 L463.61 127.09 L464.51 128.37 L465.42 129.64 L466.34 130.9 L467.27 132.16 L468.21 133.41 L469.16 134.65 L470.12 135.89 L471.08 137.12 L472.06 138.33 L473.04 139.54 L474.04 140.73 L475.05 141.92 L476.07 143.09 L477.11 144.26 L478.15 145.42 L479.21 146.58 L480.27 147.72 L481.34 148.86 L482.42 150 L483.5 151.13 L484.58 152.25 L485.67 153.37 L486.76 154.49 L487.85 155.6 L488.95 156.72 L490.04 157.83 L491.14 158.94 L492.24 160.05 L493.35 161.16 L494.46 162.25 L495.59 163.35 L496.71 164.43 L497.85 165.5 L498.99 166.56 L500.15 167.61 L501.31 168.64 L502.49 169.66 L503.69 170.65 L504.92 171.61 L506.17 172.56 L507.43 173.49 L508.7 174.41 L509.96 175.34 L511.22 176.27 L512.47 177.21 L513.7 178.17 L514.9 179.15 L516.08 180.17 L517.22 181.21 L518.37 182.28 L519.52 183.35 L520.67 184.45 L521.79 185.56 L522.9 186.7 L523.98 187.85 L525.02 189.02 L526.01 190.22 L526.96 191.43 L527.84 192.67 L528.67 193.95 L529.47 195.27 L530.24 196.62 L530.98 198 L531.69 199.41 L532.37 200.83 L533.04 202.27 L533.68 203.71 L534.31 205.15 L534.92 206.58 L535.53 208.02 L536.13 209.47 L536.71 210.93 L537.25 212.4 L537.73 213.88 L538.13 215.38 L538.44 216.9 L538.7 218.45" stroke="#cc161d"/>
<path d="M438.55 4.6 L438.55 6.16 L438.55 7.72 L438.55 9.27 L438.55 10.83 L438.55 12.39 L438.55 13.94 L438.55 15.5 L438.55 17.05 L438.55 18.61 L438.55 20.16 L438.55 21.72 L438.55 23.27 L438.55 24.83 L438.55 26.38 L438.55 27.93 L438.55 29.48 L438.55 31.04 L438.55 32.59 L438.55 34.14 L438.55 35.69 L438.55 37.24 L438.55 38.79 L438.55 40.34 L438.55 41.9 L438.55 43.45 L438.55 45 L438.55 46.55 L438.55 48.09 L438.55 49.64 L438.59 51.19 L438.67 52.74 L438.79 54.29 L438.95 55.84 L439.13 57.38 L439.32 58.93 L439.51 60.47 L439.7 62.02 L439.88 63.56 L440.05 65.11 L440.22 66.65 L440.39 68.2 L440.57 69.75 L440.75 71.3 L440.95 72.85 L441.16 74.39 L441.38 75.92 L441.63 77.45 L441.89 78.97 L442.18 80.48 L442.53 81.99 L442.92 83.49 L443.35 84.99 L443.81 86.48 L444.3 87.96 L444.8 89.44 L445.33 90.91 L445.86 92.37 L446.39 93.83 L446.94 95.27 L447.51 96.71 L448.11 98.15 L448.73 99.57 L449.36 100.99 L450.02 102.41 L450.69 103.81 L451.37 105.21 L452.06 106.61 L452.76 108 L453.46 109.38 L454.17 110.76 L454.89 112.13 L455.63 113.5 L456.38 114.87 L457.14 116.22 L457.92 117.57 L458.71 118.92 L459.5 120.25 L460.31 121.57 L461.14 122.89 L461.97 124.2 L462.81 125.5 L463.67 126.79 L464.54 128.07 L465.43 129.35 L466.32 130.63 L467.23 131.89 L468.15 133.15 L469.08 134.4 L470.02 135.64 L470.96 136.87 L471.92 138.1 L472.88 139.32 L473.85 140.52 L474.83 141.72 L475.82 142.91 L476.83 144.09 L477.84 145.27 L478.87 146.44 L479.9 147.6 L480.95 148.75 L482 149.9 L483.05 151.05 L484.11 152.19 L485.18 153.32 L486.24 154.45 L487.31 155.58 L488.38 156.7 L489.46 157.82 L490.54 158.94 L491.62 160.05 L492.71 161.16 L493.81 162.26 L494.91 163.36 L496.02 164.45 L497.13 165.54 L498.25 166.61 L499.38 167.68 L500.52 168.74 L501.66 169.79 L502.81 170.82 L503.99 171.83 L505.19 172.82 L506.41 173.79 L507.64 174.76 L508.87 175.72 L510.09 176.68 L511.31 177.65 L512.52 178.63 L513.71 179.62 L514.87 180.64 L516.01 181.69 L517.12 182.76 L518.22 183.85 L519.31 184.96 L520.4 186.09 L521.47 187.23 L522.52 188.39 L523.55 189.57 L524.56 190.77 L525.53 191.98 L526.46 193.21 L527.35 194.45 L528.22 195.72 L529.07 197.02 L529.89 198.34 L530.69 199.69 L531.46 201.05 L532.2 202.43 L532.92 203.82 L533.59 205.22 L534.23 206.62 L534.86 208.04 L535.48 209.48 L536.07 210.93 L536.6 212.4 L537.06 213.88 L537.42 215.38 L537.69 216.9 L537.89 218.45" stroke="#5cee1e"/>
<path d="M438.55 4.6 L438.55 6.16 L438.55 7.72 L438.55 9.29 L438.55 10.85 L438.55 12.41 L438.55 13.97 L438.55 15.53 L438.55 17.09 L438.55 18.65 L438.55 20.21 L438.55 21.77 L438.55 23.33 L438.55 24.89 L438.55 26.45 L438.55 28 L438.55 29.56 L438.55 31.12 L438.55 32.68 L438.55 34.23 L438.55 35.79 L438.55 37.35 L438.55 38.9 L438.55 40.46 L438.55 42.01 L438.55 43.57 L438.55 45.13 L438.55 46.68 L438.55 48.24 L438.55 49.79 L438.59 51.35 L438.67 52.9 L438.79 54.45 L438.94 56 L439.11 57.56 L439.29 59.11 L439.47 60.66 L439.64 62.21 L439.8 63.76 L439.94 65.32 L440.09 66.87 L440.24 68.43 L440.39 69.99 L440.55 71.54 L440.71 73.1 L440.89 74.65 L441.09 76.19 L441.31 77.72 L441.54 79.25 L441.82 80.77 L442.15 82.28 L442.53 83.79 L442.96 85.3 L443.42 86.8 L443.91 88.29 L444.42 89.77 L444.95 91.25 L445.48 92.72 L446.01 94.17 L446.57 95.62 L447.15 97.06 L447.77 98.49 L448.4 99.92 L449.06 101.33 L449.74 102.75 L450.44 104.15 L451.14 105.54 L451.86 106.93 L452.59 108.31 L453.32 109.68 L454.07 111.04 L454.83 112.39 L455.62 113.74 L456.42 115.08 L457.24 116.41 L458.07 117.73 L458.92 119.05 L459.77 120.35 L460.63 121.66 L461.5 122.95 L462.37 124.23 L463.25 125.52 L464.15 126.79 L465.06 128.06 L465.97 129.32 L466.9 130.58 L467.83 131.83 L468.78 133.07 L469.73 134.31 L470.69 135.54 L471.66 136.76 L472.64 137.97 L473.62 139.17 L474.62 140.36 L475.63 141.55 L476.65 142.73 L477.68 143.9 L478.71 145.06 L479.76 146.22 L480.81 147.37 L481.87 148.52 L482.94 149.66 L484 150.8 L485.07 151.93 L486.15 153.06 L487.22 154.19 L488.29 155.32 L489.36 156.45 L490.44 157.58 L491.52 158.71 L492.6 159.84 L493.69 160.96 L494.78 162.07 L495.88 163.18 L496.99 164.28 L498.1 165.37 L499.22 166.45 L500.35 167.52 L501.5 168.57 L502.65 169.61 L503.83 170.62 L505.04 171.61 L506.26 172.58 L507.5 173.54 L508.74 174.49 L509.98 175.44 L511.22 176.4 L512.44 177.37 L513.65 178.36 L514.83 179.36 L515.98 180.39 L517.11 181.46 L518.24 182.53 L519.37 183.62 L520.49 184.73 L521.59 185.85 L522.68 186.99 L523.75 188.15 L524.78 189.32 L525.78 190.51 L526.74 191.72 L527.66 192.96 L528.53 194.21 L529.38 195.5 L530.2 196.82 L531.01 198.17 L531.78 199.54 L532.53 200.92 L533.25 202.32 L533.93 203.74 L534.59 205.15 L535.21 206.57 L535.82 208 L536.41 209.45 L536.97 210.91 L537.48 212.39 L537.94 213.88 L538.33 215.38 L538.64 216.91 L538.9 218.45" stroke="#466af0"/>
</g>
<rect x="439.1" y="4.6" width="99.8" height="213.85" fill="none" stroke="#2c2c2c" stroke-width="1.5"/>
<text x="436.8" y="8.5" text-anchor="end" class="tk">2</text>
<text x="436.8" y="61.96" text-anchor="end" class="tk">1.5</text>
<text x="436.8" y="115.42" text-anchor="end" class="tk">1</text>
<text x="436.8" y="168.89" text-anchor="end" class="tk">0.5</text>
<text x="436.8" y="222.65" text-anchor="end" class="tk">0</text>
<text x="458" y="229.45" text-anchor="middle" class="tk">0.2</text>
<text x="478.15" y="229.45" text-anchor="middle" class="tk">0.4</text>
<text x="498.3" y="229.45" text-anchor="middle" class="tk">0.6</text>
<text x="518.45" y="229.45" text-anchor="middle" class="tk">0.8</text>
<text x="538.6" y="229.45" text-anchor="middle" class="tk">1</text>
<text x="489.6" y="241.45" text-anchor="middle" class="at">U/U<tspan class="sb" dy="3.2">j</tspan></text>
<text transform="translate(429 112.32) rotate(-90) scale(1 1.2)" text-anchor="middle" class="ay">y/D<tspan class="sy" dy="2.2">j</tspan></text>
<text x="489.2" y="263.45" text-anchor="middle" class="lb">5D<tspan class="ls" dy="4.6">j</tspan></text>
<clipPath id="ct4"><rect x="577.7" y="4" width="101.3" height="215.05"/></clipPath>
<path d="M578.3 207.76h3.3M678.4 207.76h-3.3M578.3 197.06h3.3M678.4 197.06h-3.3M578.3 186.37h3.3M678.4 186.37h-3.3M578.3 175.68h3.3M678.4 175.68h-3.3M578.3 154.29h3.3M678.4 154.29h-3.3M578.3 143.6h3.3M678.4 143.6h-3.3M578.3 132.91h3.3M678.4 132.91h-3.3M578.3 122.22h3.3M678.4 122.22h-3.3M578.3 100.83h3.3M678.4 100.83h-3.3M578.3 90.14h3.3M678.4 90.14h-3.3M578.3 79.45h3.3M678.4 79.45h-3.3M578.3 68.75h3.3M678.4 68.75h-3.3M578.3 47.37h3.3M678.4 47.37h-3.3M578.3 36.68h3.3M678.4 36.68h-3.3M578.3 25.98h3.3M678.4 25.98h-3.3M578.3 15.29h3.3M678.4 15.29h-3.3M581.68 218.45v-3.3M581.68 4.6v3.3M585.71 218.45v-3.3M585.71 4.6v3.3M589.74 218.45v-3.3M589.74 4.6v3.3M593.77 218.45v-3.3M593.77 4.6v3.3M601.83 218.45v-3.3M601.83 4.6v3.3M605.86 218.45v-3.3M605.86 4.6v3.3M609.89 218.45v-3.3M609.89 4.6v3.3M613.92 218.45v-3.3M613.92 4.6v3.3M621.98 218.45v-3.3M621.98 4.6v3.3M626.01 218.45v-3.3M626.01 4.6v3.3M630.04 218.45v-3.3M630.04 4.6v3.3M634.07 218.45v-3.3M634.07 4.6v3.3M642.13 218.45v-3.3M642.13 4.6v3.3M646.16 218.45v-3.3M646.16 4.6v3.3M650.19 218.45v-3.3M650.19 4.6v3.3M654.22 218.45v-3.3M654.22 4.6v3.3M662.28 218.45v-3.3M662.28 4.6v3.3M666.31 218.45v-3.3M666.31 4.6v3.3M670.34 218.45v-3.3M670.34 4.6v3.3M674.37 218.45v-3.3M674.37 4.6v3.3" stroke="#9a9a9a" stroke-width="0.9" fill="none"/>
<path d="M578.3 218.45h5.2M678.4 218.45h-5.2M578.3 164.99h5.2M678.4 164.99h-5.2M578.3 111.52h5.2M678.4 111.52h-5.2M578.3 58.06h5.2M678.4 58.06h-5.2M578.3 4.6h5.2M678.4 4.6h-5.2M597.8 218.45v-5.2M597.8 4.6v5.2M617.95 218.45v-5.2M617.95 4.6v5.2M638.1 218.45v-5.2M638.1 4.6v5.2M658.25 218.45v-5.2M658.25 4.6v5.2M678.4 218.45v-5.2M678.4 4.6v5.2" stroke="#2c2c2c" stroke-width="1.4" fill="none"/>
<g clip-path="url(#ct4)" fill="none" stroke-width="1.4" stroke-linejoin="round" stroke-linecap="round">
<path d="M579.87 4.6 L579.96 6.02 L580.07 7.44 L580.18 8.86 L580.3 10.28 L580.43 11.69 L580.57 13.11 L580.72 14.52 L580.87 15.94 L581.02 17.35 L581.19 18.76 L581.36 20.17 L581.53 21.58 L581.71 22.98 L581.89 24.39 L582.09 25.8 L582.3 27.21 L582.51 28.61 L582.74 30.02 L582.98 31.42 L583.22 32.83 L583.47 34.23 L583.74 35.63 L584.01 37.02 L584.28 38.42 L584.57 39.81 L584.86 41.2 L585.16 42.59 L585.47 43.97 L585.78 45.35 L586.12 46.73 L586.48 48.1 L586.85 49.47 L587.24 50.83 L587.64 52.2 L588.06 53.56 L588.48 54.92 L588.91 56.28 L589.34 57.64 L589.78 58.99 L590.21 60.35 L590.65 61.7 L591.08 63.06 L591.5 64.42 L591.92 65.78 L592.35 67.13 L592.77 68.49 L593.2 69.84 L593.64 71.2 L594.07 72.55 L594.51 73.9 L594.95 75.25 L595.39 76.61 L595.83 77.96 L596.27 79.31 L596.71 80.66 L597.15 82.01 L597.6 83.36 L598.04 84.71 L598.48 86.06 L598.91 87.42 L599.35 88.77 L599.78 90.13 L600.21 91.48 L600.64 92.84 L601.07 94.19 L601.5 95.55 L601.93 96.9 L602.37 98.26 L602.8 99.61 L603.24 100.97 L603.68 102.32 L604.13 103.67 L604.58 105.01 L605.04 106.36 L605.5 107.7 L605.97 109.04 L606.45 110.38 L606.94 111.71 L607.43 113.04 L607.93 114.37 L608.43 115.7 L608.94 117.02 L609.46 118.35 L609.98 119.67 L610.51 120.99 L611.04 122.31 L611.58 123.63 L612.12 124.95 L612.67 126.26 L613.22 127.57 L613.78 128.88 L614.34 130.19 L614.91 131.49 L615.48 132.79 L616.05 134.09 L616.63 135.39 L617.22 136.68 L617.81 137.97 L618.41 139.26 L619.01 140.54 L619.63 141.82 L620.26 143.1 L620.89 144.37 L621.53 145.64 L622.17 146.91 L622.82 148.17 L623.47 149.44 L624.13 150.7 L624.78 151.96 L625.44 153.22 L626.09 154.49 L626.75 155.75 L627.4 157.01 L628.05 158.28 L628.7 159.54 L629.35 160.81 L630.02 162.07 L630.69 163.32 L631.36 164.58 L632.04 165.83 L632.72 167.08 L633.4 168.34 L634.07 169.59 L634.73 170.85 L635.38 172.11 L636.02 173.38 L636.65 174.65 L637.25 175.94 L637.84 177.22 L638.41 178.52 L638.97 179.82 L639.54 181.13 L640.11 182.44 L640.67 183.76 L641.22 185.08 L641.75 186.41 L642.26 187.75 L642.75 189.09 L643.21 190.43 L643.63 191.78 L644.02 193.14 L644.37 194.5 L644.71 195.87 L645.06 197.25 L645.41 198.64 L645.74 200.04 L646.04 201.44 L646.3 202.85 L646.52 204.26 L646.67 205.67 L646.75 207.08 L646.76 208.5 L646.76 209.91 L646.76 211.33 L646.76 212.75 L646.76 214.17 L646.76 215.59 L646.76 217.02 L646.76 218.45" stroke="#cc161d"/>
<path d="M580.07 4.6 L580.16 6.02 L580.27 7.43 L580.38 8.85 L580.5 10.26 L580.63 11.67 L580.77 13.09 L580.91 14.5 L581.07 15.91 L581.22 17.32 L581.38 18.72 L581.55 20.13 L581.72 21.53 L581.9 22.94 L582.09 24.34 L582.29 25.74 L582.5 27.14 L582.73 28.54 L582.96 29.94 L583.21 31.34 L583.46 32.73 L583.72 34.13 L583.98 35.52 L584.25 36.92 L584.53 38.31 L584.81 39.7 L585.09 41.09 L585.37 42.48 L585.65 43.87 L585.93 45.26 L586.22 46.65 L586.52 48.03 L586.81 49.42 L587.12 50.8 L587.43 52.19 L587.74 53.57 L588.06 54.95 L588.39 56.34 L588.72 57.71 L589.06 59.09 L589.4 60.47 L589.75 61.84 L590.1 63.21 L590.46 64.58 L590.83 65.95 L591.2 67.32 L591.59 68.68 L591.98 70.04 L592.38 71.4 L592.79 72.76 L593.21 74.11 L593.63 75.47 L594.06 76.82 L594.49 78.17 L594.92 79.52 L595.36 80.87 L595.8 82.22 L596.25 83.57 L596.69 84.91 L597.14 86.26 L597.59 87.6 L598.04 88.95 L598.5 90.29 L598.96 91.63 L599.42 92.97 L599.89 94.31 L600.36 95.65 L600.84 96.98 L601.31 98.32 L601.8 99.65 L602.28 100.98 L602.77 102.32 L603.26 103.65 L603.76 104.97 L604.26 106.3 L604.76 107.63 L605.27 108.95 L605.78 110.27 L606.29 111.59 L606.81 112.91 L607.33 114.23 L607.85 115.54 L608.38 116.86 L608.92 118.17 L609.46 119.48 L610 120.79 L610.55 122.1 L611.1 123.41 L611.65 124.72 L612.21 126.02 L612.77 127.32 L613.34 128.62 L613.9 129.92 L614.47 131.22 L615.05 132.52 L615.63 133.81 L616.2 135.11 L616.79 136.4 L617.37 137.69 L617.96 138.97 L618.56 140.26 L619.17 141.54 L619.78 142.82 L620.4 144.09 L621.02 145.37 L621.65 146.64 L622.27 147.91 L622.9 149.18 L623.53 150.45 L624.16 151.72 L624.79 153 L625.42 154.27 L626.04 155.54 L626.67 156.81 L627.28 158.09 L627.9 159.37 L628.51 160.65 L629.13 161.92 L629.76 163.2 L630.38 164.47 L631.01 165.74 L631.64 167.02 L632.26 168.3 L632.88 169.57 L633.49 170.85 L634.09 172.14 L634.68 173.42 L635.26 174.72 L635.83 176.01 L636.38 177.31 L636.92 178.62 L637.46 179.93 L638 181.25 L638.54 182.56 L639.07 183.89 L639.59 185.21 L640.09 186.54 L640.59 187.88 L641.06 189.22 L641.51 190.56 L641.93 191.91 L642.33 193.26 L642.69 194.62 L643.05 195.99 L643.41 197.36 L643.77 198.74 L644.11 200.13 L644.42 201.52 L644.71 202.92 L644.96 204.32 L645.16 205.72 L645.31 207.12 L645.4 208.53 L645.48 209.93 L645.56 211.35 L645.62 212.76 L645.68 214.18 L645.72 215.6 L645.75 217.02 L645.76 218.45" stroke="#5cee1e"/>
<path d="M580.67 4.6 L580.78 6.02 L580.89 7.44 L581.01 8.85 L581.14 10.27 L581.27 11.69 L581.41 13.1 L581.55 14.52 L581.7 15.93 L581.85 17.34 L582.01 18.75 L582.17 20.16 L582.34 21.58 L582.51 22.98 L582.69 24.39 L582.87 25.8 L583.07 27.21 L583.27 28.62 L583.48 30.02 L583.69 31.43 L583.91 32.84 L584.14 34.24 L584.38 35.64 L584.62 37.05 L584.86 38.45 L585.11 39.85 L585.37 41.24 L585.62 42.64 L585.89 44.03 L586.16 45.43 L586.44 46.82 L586.73 48.21 L587.03 49.6 L587.34 50.99 L587.66 52.37 L587.98 53.76 L588.31 55.14 L588.64 56.52 L588.98 57.9 L589.33 59.28 L589.67 60.66 L590.02 62.04 L590.37 63.42 L590.72 64.8 L591.07 66.18 L591.42 67.55 L591.78 68.93 L592.14 70.3 L592.51 71.68 L592.88 73.05 L593.25 74.42 L593.63 75.8 L594.01 77.17 L594.4 78.53 L594.79 79.9 L595.19 81.26 L595.6 82.62 L596.01 83.98 L596.43 85.34 L596.85 86.69 L597.28 88.05 L597.72 89.4 L598.17 90.75 L598.62 92.09 L599.08 93.44 L599.54 94.79 L600.01 96.13 L600.48 97.47 L600.96 98.81 L601.45 100.15 L601.94 101.48 L602.43 102.82 L602.93 104.15 L603.43 105.48 L603.93 106.81 L604.44 108.14 L604.95 109.46 L605.47 110.79 L605.99 112.11 L606.51 113.43 L607.04 114.74 L607.58 116.06 L608.12 117.37 L608.67 118.68 L609.22 119.99 L609.78 121.3 L610.34 122.61 L610.91 123.91 L611.48 125.21 L612.06 126.51 L612.64 127.81 L613.22 129.11 L613.81 130.41 L614.4 131.7 L614.99 132.99 L615.59 134.28 L616.19 135.57 L616.79 136.86 L617.39 138.14 L618 139.43 L618.62 140.7 L619.25 141.98 L619.88 143.25 L620.51 144.53 L621.15 145.8 L621.79 147.06 L622.44 148.33 L623.08 149.6 L623.73 150.86 L624.38 152.13 L625.04 153.39 L625.69 154.65 L626.34 155.92 L626.99 157.18 L627.63 158.45 L628.28 159.71 L628.93 160.98 L629.6 162.24 L630.27 163.49 L630.94 164.75 L631.61 166 L632.29 167.26 L632.96 168.51 L633.62 169.77 L634.28 171.03 L634.94 172.29 L635.58 173.56 L636.2 174.83 L636.81 176.11 L637.41 177.4 L637.99 178.69 L638.57 179.99 L639.15 181.29 L639.73 182.6 L640.3 183.91 L640.87 185.22 L641.41 186.54 L641.94 187.87 L642.45 189.2 L642.93 190.53 L643.39 191.87 L643.81 193.22 L644.2 194.58 L644.58 195.94 L644.96 197.31 L645.35 198.69 L645.71 200.08 L646.05 201.48 L646.36 202.88 L646.61 204.28 L646.81 205.68 L646.93 207.09 L646.99 208.5 L647.03 209.91 L647.07 211.32 L647.1 212.74 L647.13 214.16 L647.15 215.59 L647.16 217.02 L647.17 218.45" stroke="#466af0"/>
</g>
<rect x="578.3" y="4.6" width="100.1" height="213.85" fill="none" stroke="#2c2c2c" stroke-width="1.5"/>
<text x="576" y="8.5" text-anchor="end" class="tk">2</text>
<text x="576" y="61.96" text-anchor="end" class="tk">1.5</text>
<text x="576" y="115.42" text-anchor="end" class="tk">1</text>
<text x="576" y="168.89" text-anchor="end" class="tk">0.5</text>
<text x="576" y="222.65" text-anchor="end" class="tk">0</text>
<text x="597.5" y="229.45" text-anchor="middle" class="tk">0.2</text>
<text x="617.65" y="229.45" text-anchor="middle" class="tk">0.4</text>
<text x="637.8" y="229.45" text-anchor="middle" class="tk">0.6</text>
<text x="657.95" y="229.45" text-anchor="middle" class="tk">0.8</text>
<text x="678.1" y="229.45" text-anchor="middle" class="tk">1</text>
<text x="628.95" y="241.45" text-anchor="middle" class="at">U/U<tspan class="sb" dy="3.2">j</tspan></text>
<text transform="translate(568.2 112.32) rotate(-90) scale(1 1.2)" text-anchor="middle" class="ay">y/D<tspan class="sy" dy="2.2">j</tspan></text>
<text x="628.55" y="263.45" text-anchor="middle" class="lb">10D<tspan class="ls" dy="4.6">j</tspan></text>
<clipPath id="cb0"><rect x="19.9" y="310.6" width="101.3" height="215.2"/></clipPath>
<path d="M20.5 514.5h3.3M120.6 514.5h-3.3M20.5 503.8h3.3M120.6 503.8h-3.3M20.5 493.1h3.3M120.6 493.1h-3.3M20.5 482.4h3.3M120.6 482.4h-3.3M20.5 461h3.3M120.6 461h-3.3M20.5 450.3h3.3M120.6 450.3h-3.3M20.5 439.6h3.3M120.6 439.6h-3.3M20.5 428.9h3.3M120.6 428.9h-3.3M20.5 407.5h3.3M120.6 407.5h-3.3M20.5 396.8h3.3M120.6 396.8h-3.3M20.5 386.1h3.3M120.6 386.1h-3.3M20.5 375.4h3.3M120.6 375.4h-3.3M20.5 354h3.3M120.6 354h-3.3M20.5 343.3h3.3M120.6 343.3h-3.3M20.5 332.6h3.3M120.6 332.6h-3.3M20.5 321.9h3.3M120.6 321.9h-3.3M25.5 525.2v-3.3M25.5 311.2v3.3M30.51 525.2v-3.3M30.51 311.2v3.3M35.52 525.2v-3.3M35.52 311.2v3.3M40.52 525.2v-3.3M40.52 311.2v3.3M50.53 525.2v-3.3M50.53 311.2v3.3M55.53 525.2v-3.3M55.53 311.2v3.3M60.54 525.2v-3.3M60.54 311.2v3.3M65.54 525.2v-3.3M65.54 311.2v3.3M75.55 525.2v-3.3M75.55 311.2v3.3M80.56 525.2v-3.3M80.56 311.2v3.3M85.56 525.2v-3.3M85.56 311.2v3.3M90.57 525.2v-3.3M90.57 311.2v3.3M100.58 525.2v-3.3M100.58 311.2v3.3M105.58 525.2v-3.3M105.58 311.2v3.3M110.59 525.2v-3.3M110.59 311.2v3.3M115.59 525.2v-3.3M115.59 311.2v3.3" stroke="#9a9a9a" stroke-width="0.9" fill="none"/>
<path d="M20.5 525.2h5.2M120.6 525.2h-5.2M20.5 471.7h5.2M120.6 471.7h-5.2M20.5 418.2h5.2M120.6 418.2h-5.2M20.5 364.7h5.2M120.6 364.7h-5.2M20.5 311.2h5.2M120.6 311.2h-5.2M20.5 525.2v-5.2M20.5 311.2v5.2M45.52 525.2v-5.2M45.52 311.2v5.2M70.55 525.2v-5.2M70.55 311.2v5.2M95.57 525.2v-5.2M95.57 311.2v5.2M120.6 525.2v-5.2M120.6 311.2v5.2" stroke="#2c2c2c" stroke-width="1.4" fill="none"/>
<g clip-path="url(#cb0)" fill="none" stroke-width="1.4" stroke-linejoin="round" stroke-linecap="round">
<path d="M20.5 311.2 L20.5 316.34 L20.5 321.47 L20.5 326.61 L20.5 331.75 L20.5 336.88 L20.5 342.02 L20.5 347.16 L20.5 352.29 L20.5 357.43 L20.5 362.57 L20.5 367.7 L20.5 372.84 L20.5 377.97 L20.5 383.11 L20.5 388.25 L20.5 393.38 L20.5 398.52 L20.5 403.65 L20.5 408.79 L20.5 413.93 L20.5 419.06 L20.53 424.2 L20.62 429.34 L20.74 434.48 L20.95 439.6 L21.58 444.73 L22.67 449.76 L24.7 454.45 L28.29 458.18 L32.61 460.92 L37.36 462.89 L42.31 464.25 L47.38 465.26 L52.45 465.98 L57.57 466.54 L62.68 467.01 L67.8 467.43 L72.92 467.79 L78.06 468.06 L78.61 468.1 L79.16 468.14 L79.71 468.19 L80.25 468.23 L80.8 468.27 L81.35 468.31 L81.9 468.35 L82.45 468.39 L83 468.43 L83.55 468.47 L84.1 468.51 L84.65 468.56 L85.2 468.6 L85.75 468.64 L86.3 468.68 L86.85 468.72 L87.4 468.76 L87.94 468.8 L88.49 468.84 L89.04 468.89 L89.59 468.93 L90.14 468.97 L90.69 469.01 L91.24 469.05 L91.79 469.09 L92.34 469.13 L92.89 469.17 L93.44 469.21 L93.99 469.26 L94.54 469.3 L95.08 469.34 L95.63 469.38 L96.18 469.42 L96.73 469.46 L97.28 469.5 L97.83 469.54 L98.38 469.58 L98.93 469.63 L99.48 469.67 L99.64 469.72 L99.8 469.78 L99.97 469.84 L100.13 469.89 L100.29 469.95 L100.46 470 L100.62 470.06 L100.78 470.12 L100.95 470.17 L101.11 470.23 L101.27 470.29 L101.43 470.34 L101.6 470.4 L101.76 470.45 L101.92 470.51 L102.09 470.57 L102.25 470.62 L102.41 470.68 L102.58 470.74 L102.74 470.79 L102.9 470.85 L103.06 470.9 L103.23 470.96 L103.39 471.02 L103.55 471.07 L103.72 471.13 L103.88 471.19 L104.04 471.24 L104.21 471.3 L104.37 471.35 L104.53 471.41 L104.69 471.47 L104.86 471.52 L105.02 471.58 L105.18 471.64 L105.35 471.69 L105.51 471.75 L105.67 471.8 L105.84 471.86 L105.65 471.87 L105.46 471.89 L105.28 471.9 L105.09 471.91 L104.9 471.92 L104.72 471.93 L104.53 471.95 L104.35 471.96 L104.16 471.97 L103.97 471.98 L103.79 472 L103.6 472.01 L103.42 472.02 L103.23 472.03 L103.04 472.05 L102.86 472.06 L102.67 472.07 L102.49 472.08 L102.3 472.1 L102.11 472.11 L101.93 472.12 L101.74 472.13 L101.56 472.14 L101.37 472.16 L101.18 472.17 L101 472.18 L100.81 472.19 L100.62 472.21 L100.44 472.22 L100.25 472.23 L100.07 472.24 L99.88 472.26 L99.69 472.27 L99.51 472.28 L99.32 472.29 L99.14 472.3 L98.95 472.32 L98.76 472.33 L98.58 472.34 L95.64 472.75 L92.69 473.13 L89.75 473.51 L86.8 473.86 L83.85 474.2 L80.9 474.52 L77.95 474.81 L74.99 475.08 L72.04 475.33 L69.08 475.55 L66.12 475.78 L63.16 476.02 L60.2 476.29 L57.25 476.57 L54.29 476.87 L51.34 477.19 L48.4 477.57 L45.47 478.01 L42.54 478.54 L39.62 479.17 L36.75 479.88 L33.88 480.71 L31.06 481.74 L28.45 483.04 L25.95 484.83 L24.16 487.02 L22.89 489.74 L22.01 492.65 L21.4 495.54 L20.97 498.5 L20.79 501.45 L20.68 504.41 L20.59 507.38 L20.53 510.36 L20.5 513.33 L20.5 516.3 L20.5 519.26 L20.5 522.23 L20.5 525.2" stroke="#5cee1e"/>
<path d="M20.5 311.2 L20.5 315.75 L20.5 320.29 L20.5 324.84 L20.5 329.38 L20.5 333.93 L20.5 338.47 L20.5 343.02 L20.5 347.56 L20.5 352.11 L20.5 356.65 L20.5 361.2 L20.5 365.74 L20.5 370.29 L20.5 374.83 L20.5 379.38 L20.5 383.92 L20.5 388.47 L20.5 393.01 L20.5 397.56 L20.5 402.1 L20.5 406.65 L20.5 411.19 L20.5 415.74 L20.5 420.29 L20.51 424.84 L20.54 429.41 L20.59 433.97 L20.65 438.52 L20.74 443.05 L20.88 447.55 L21.87 452 L23.36 456.37 L25.65 460.16 L29.19 463.13 L33.22 465.13 L37.6 466.6 L41.98 467.63 L46.45 468.46 L51.03 468.92 L51.51 468.97 L51.98 469.02 L52.45 469.07 L52.93 469.13 L53.4 469.18 L53.88 469.23 L54.35 469.28 L54.83 469.34 L55.3 469.39 L55.78 469.44 L56.25 469.49 L56.73 469.54 L57.2 469.6 L57.68 469.65 L58.15 469.7 L58.63 469.75 L59.1 469.8 L59.58 469.86 L60.05 469.91 L60.53 469.96 L61 470.01 L61.48 470.06 L61.95 470.12 L62.43 470.17 L62.9 470.22 L63.38 470.27 L63.85 470.33 L64.33 470.38 L64.8 470.43 L65.28 470.48 L65.75 470.53 L66.23 470.59 L66.7 470.64 L67.17 470.69 L67.65 470.74 L68.12 470.79 L68.6 470.85 L69.07 470.9 L69.55 470.95 L69.73 470.97 L69.91 471 L70.09 471.02 L70.27 471.04 L70.45 471.07 L70.63 471.09 L70.81 471.11 L70.99 471.14 L71.17 471.16 L71.35 471.18 L71.53 471.21 L71.7 471.23 L71.88 471.25 L72.06 471.28 L72.24 471.3 L72.42 471.32 L72.6 471.35 L72.78 471.37 L72.96 471.39 L73.14 471.42 L73.32 471.44 L73.5 471.46 L73.68 471.49 L73.86 471.51 L74.04 471.53 L74.22 471.56 L74.4 471.58 L74.58 471.6 L74.76 471.63 L74.94 471.65 L75.12 471.67 L75.3 471.7 L75.48 471.72 L75.66 471.74 L75.84 471.77 L76.02 471.79 L76.2 471.81 L76.38 471.84 L76.56 471.86 L76.36 471.88 L76.17 471.9 L75.98 471.91 L75.79 471.93 L75.59 471.95 L75.4 471.97 L75.21 471.99 L75.02 472 L74.82 472.02 L74.63 472.04 L74.44 472.06 L74.25 472.07 L74.05 472.09 L73.86 472.11 L73.67 472.13 L73.48 472.15 L73.28 472.16 L73.09 472.18 L72.9 472.2 L72.71 472.22 L72.51 472.24 L72.32 472.25 L72.13 472.27 L71.94 472.29 L71.74 472.31 L71.55 472.32 L71.36 472.34 L71.17 472.36 L70.97 472.38 L70.78 472.4 L70.59 472.41 L70.4 472.43 L70.2 472.45 L70.01 472.47 L69.82 472.48 L69.63 472.5 L69.43 472.52 L69.24 472.54 L69.05 472.56 L66.77 472.7 L64.49 472.88 L62.22 473.08 L59.95 473.31 L57.68 473.56 L55.42 473.82 L53.15 474.1 L50.9 474.39 L48.64 474.7 L46.37 475.04 L44.11 475.42 L41.87 475.84 L39.64 476.31 L37.44 476.84 L35.23 477.48 L33.03 478.23 L30.91 479.1 L28.92 480.1 L26.97 481.36 L25.23 482.9 L23.93 484.65 L22.88 486.72 L22.05 488.89 L21.32 491.06 L20.76 493.29 L20.63 495.54 L20.6 497.79 L20.57 500.06 L20.55 502.34 L20.53 504.63 L20.52 506.92 L20.51 509.22 L20.5 511.51 L20.5 513.8 L20.5 516.08 L20.5 518.36 L20.5 520.64 L20.5 522.92 L20.5 525.2" stroke="#cc161d"/>
<path d="M20.5 311.2 L20.5 313.5 L20.5 315.79 L20.5 318.09 L20.5 320.39 L20.5 322.69 L20.5 324.98 L20.5 327.28 L20.5 329.58 L20.5 331.87 L20.5 334.17 L20.5 336.47 L20.5 338.77 L20.5 341.06 L20.5 343.36 L20.5 345.66 L20.5 347.96 L20.5 350.25 L20.5 352.55 L20.5 354.85 L20.5 357.14 L20.5 359.44 L20.5 361.74 L20.5 364.04 L20.5 366.33 L20.5 368.63 L20.5 370.93 L20.5 373.22 L20.5 375.52 L20.5 377.82 L20.5 380.12 L20.5 382.41 L20.5 384.71 L20.5 387.01 L20.5 389.3 L20.5 391.6 L20.5 393.9 L20.5 396.2 L20.5 398.49 L20.5 400.79 L20.5 403.09 L20.5 405.39 L20.5 407.68 L20.5 409.98 L20.5 412.28 L20.5 414.57 L20.5 416.87 L20.5 419.17 L20.5 421.47 L20.5 423.77 L20.5 426.07 L20.51 428.37 L20.51 430.67 L20.52 432.98 L20.53 435.28 L20.54 437.58 L20.55 439.88 L20.56 442.18 L20.58 444.47 L20.6 446.76 L20.62 449.05 L20.64 451.34 L20.71 453.62 L21.04 455.92 L21.54 458.15 L22.37 460.3 L23.55 462.3 L24.95 464.12 L26.66 465.73 L28.56 466.86 L30.72 467.73 L32.95 468.41 L35.17 468.94 L37.42 469.39 L39.7 469.79 L41.97 470.19 L44.23 470.59 L46.49 470.98 L48.76 471.35 L51.03 471.7 L50.1 471.84 L49.17 471.99 L48.24 472.13 L47.3 472.29 L46.37 472.44 L45.44 472.6 L44.52 472.76 L43.59 472.92 L42.66 473.08 L41.73 473.25 L40.8 473.41 L39.87 473.58 L38.94 473.74 L38 473.9 L37.07 474.07 L36.14 474.25 L35.22 474.45 L34.3 474.65 L33.4 474.88 L32.49 475.12 L31.58 475.39 L30.66 475.69 L29.75 476.03 L28.88 476.4 L28.04 476.8 L27.26 477.25 L26.51 477.78 L25.79 478.41 L25.1 479.1 L24.47 479.84 L23.9 480.59 L23.38 481.35 L22.89 482.16 L22.42 483 L22.01 483.88 L21.68 484.76 L21.44 485.65 L21.23 486.56 L21.04 487.49 L20.88 488.43 L20.75 489.37 L20.67 490.32 L20.65 491.26 L20.63 492.2 L20.62 493.13 L20.61 494.07 L20.6 495.01 L20.59 495.95 L20.58 496.89 L20.57 497.84 L20.56 498.78 L20.55 499.72 L20.54 500.67 L20.54 501.61 L20.53 502.55 L20.53 503.5 L20.52 504.44 L20.52 505.39 L20.51 506.33 L20.51 507.28 L20.51 508.22 L20.51 509.17 L20.5 510.11 L20.5 511.06 L20.5 512 L20.5 512.94 L20.5 513.89 L20.5 514.83 L20.5 515.77 L20.5 516.72 L20.5 517.66 L20.5 518.6 L20.5 519.54 L20.5 520.49 L20.5 521.43 L20.5 522.37 L20.5 523.31 L20.5 524.26 L20.5 525.2" stroke="#466af0"/>
</g>
<rect x="20.5" y="311.2" width="100.1" height="214" fill="none" stroke="#2c2c2c" stroke-width="1.5"/>
<text x="18.6" y="315.1" text-anchor="end" class="tk">2</text>
<text x="18.6" y="368.6" text-anchor="end" class="tk">1.5</text>
<text x="18.6" y="422.1" text-anchor="end" class="tk">1</text>
<text x="18.6" y="475.6" text-anchor="end" class="tk">0.5</text>
<text x="18.6" y="530" text-anchor="end" class="tk">0</text>
<text x="20.2" y="536.2" text-anchor="middle" class="tk">0</text>
<text x="45.23" y="536.2" text-anchor="middle" class="tk">0.05</text>
<text x="70.25" y="536.2" text-anchor="middle" class="tk">0.1</text>
<text x="95.27" y="536.2" text-anchor="middle" class="tk">0.15</text>
<text x="120.3" y="536.2" text-anchor="middle" class="tk">0.2</text>
<text x="70.55" y="548.6" text-anchor="middle" class="at">U′/U<tspan class="sb" dy="3.2">j</tspan></text>
<text transform="translate(11 419) rotate(-90) scale(1 1.2)" text-anchor="middle" class="ay">y/D<tspan class="sy" dy="2.2">j</tspan></text>
<text x="70.55" y="570.2" text-anchor="middle" class="lb">0.5D<tspan class="ls" dy="4.6">j</tspan></text>
<clipPath id="cb1"><rect x="159.1" y="310.6" width="100.9" height="215.2"/></clipPath>
<path d="M159.7 514.5h3.3M259.4 514.5h-3.3M159.7 503.8h3.3M259.4 503.8h-3.3M159.7 493.1h3.3M259.4 493.1h-3.3M159.7 482.4h3.3M259.4 482.4h-3.3M159.7 461h3.3M259.4 461h-3.3M159.7 450.3h3.3M259.4 450.3h-3.3M159.7 439.6h3.3M259.4 439.6h-3.3M159.7 428.9h3.3M259.4 428.9h-3.3M159.7 407.5h3.3M259.4 407.5h-3.3M159.7 396.8h3.3M259.4 396.8h-3.3M159.7 386.1h3.3M259.4 386.1h-3.3M159.7 375.4h3.3M259.4 375.4h-3.3M159.7 354h3.3M259.4 354h-3.3M159.7 343.3h3.3M259.4 343.3h-3.3M159.7 332.6h3.3M259.4 332.6h-3.3M159.7 321.9h3.3M259.4 321.9h-3.3M164.69 525.2v-3.3M164.69 311.2v3.3M169.67 525.2v-3.3M169.67 311.2v3.3M174.65 525.2v-3.3M174.65 311.2v3.3M179.64 525.2v-3.3M179.64 311.2v3.3M189.61 525.2v-3.3M189.61 311.2v3.3M194.59 525.2v-3.3M194.59 311.2v3.3M199.58 525.2v-3.3M199.58 311.2v3.3M204.56 525.2v-3.3M204.56 311.2v3.3M214.53 525.2v-3.3M214.53 311.2v3.3M219.52 525.2v-3.3M219.52 311.2v3.3M224.5 525.2v-3.3M224.5 311.2v3.3M229.49 525.2v-3.3M229.49 311.2v3.3M239.46 525.2v-3.3M239.46 311.2v3.3M244.44 525.2v-3.3M244.44 311.2v3.3M249.43 525.2v-3.3M249.43 311.2v3.3M254.41 525.2v-3.3M254.41 311.2v3.3" stroke="#9a9a9a" stroke-width="0.9" fill="none"/>
<path d="M159.7 525.2h5.2M259.4 525.2h-5.2M159.7 471.7h5.2M259.4 471.7h-5.2M159.7 418.2h5.2M259.4 418.2h-5.2M159.7 364.7h5.2M259.4 364.7h-5.2M159.7 311.2h5.2M259.4 311.2h-5.2M159.7 525.2v-5.2M159.7 311.2v5.2M184.62 525.2v-5.2M184.62 311.2v5.2M209.55 525.2v-5.2M209.55 311.2v5.2M234.47 525.2v-5.2M234.47 311.2v5.2M259.4 525.2v-5.2M259.4 311.2v5.2" stroke="#2c2c2c" stroke-width="1.4" fill="none"/>
<g clip-path="url(#cb1)" fill="none" stroke-width="1.4" stroke-linejoin="round" stroke-linecap="round">
<path d="M159.95 311.2 L159.95 314 L159.95 316.79 L159.95 319.59 L159.95 322.38 L159.95 325.17 L159.95 327.97 L159.95 330.76 L159.95 333.56 L159.95 336.35 L159.95 339.15 L159.95 341.94 L159.95 344.74 L159.95 347.53 L159.95 350.33 L159.95 353.12 L159.95 355.92 L159.95 358.71 L159.95 361.5 L159.95 364.3 L159.95 367.09 L159.95 369.89 L159.95 372.68 L159.95 375.48 L159.95 378.27 L159.95 381.06 L159.95 383.86 L159.95 386.65 L159.97 389.45 L160 392.24 L160.05 395.04 L160.12 397.83 L160.21 400.63 L160.3 403.42 L160.4 406.21 L160.51 409 L160.69 411.79 L160.91 414.58 L161.19 417.37 L161.49 420.14 L161.83 422.91 L162.23 425.7 L162.72 428.48 L163.3 431.23 L163.97 433.91 L164.79 436.55 L165.88 439.24 L167.2 441.82 L168.71 444.16 L170.39 446.13 L172.51 447.88 L174.95 449.44 L177.5 450.81 L180 452 L182.56 453.1 L185.19 454.11 L187.87 455.01 L190.56 455.8 L193.26 456.45 L195.97 457.02 L198.72 457.52 L201.48 457.97 L204.25 458.4 L207.03 458.82 L209.8 459.24 L212.56 459.7 L215.32 460.14 L218.09 460.57 L220.85 460.99 L223.62 461.42 L226.38 461.87 L229.12 462.36 L231.86 462.9 L234.6 463.48 L237.36 464.11 L240.09 464.8 L242.77 465.6 L245.35 466.53 L247.82 467.78 L250.18 469.35 L248.96 470.34 L247.72 471.29 L246.44 472.1 L245.1 472.68 L243.72 473.15 L242.29 473.58 L240.82 473.96 L239.33 474.31 L237.82 474.63 L236.29 474.92 L234.75 475.19 L233.22 475.45 L231.69 475.7 L230.18 475.95 L228.68 476.19 L227.17 476.42 L225.66 476.63 L224.15 476.83 L222.64 477.02 L221.12 477.2 L219.6 477.38 L218.09 477.56 L216.57 477.73 L215.05 477.91 L213.54 478.1 L212.02 478.29 L210.51 478.49 L209 478.7 L207.49 478.92 L205.97 479.13 L204.46 479.35 L202.94 479.56 L201.41 479.78 L199.89 480 L198.37 480.23 L196.86 480.46 L195.35 480.71 L193.84 480.97 L192.35 481.25 L190.86 481.55 L189.38 481.86 L187.92 482.2 L186.46 482.57 L184.99 482.99 L183.52 483.46 L182.06 483.98 L180.61 484.54 L179.17 485.15 L177.77 485.8 L176.41 486.48 L175.09 487.2 L173.83 487.95 L172.57 488.79 L171.31 489.73 L170.08 490.75 L168.93 491.83 L167.89 492.97 L166.98 494.14 L166.22 495.35 L165.5 496.65 L164.82 498.03 L164.2 499.46 L163.63 500.94 L163.15 502.44 L162.76 503.94 L162.47 505.42 L162.24 506.9 L162.03 508.41 L161.85 509.93 L161.69 511.46 L161.57 512.99 L161.48 514.52 L161.43 516.05 L161.39 517.57 L161.36 519.09 L161.33 520.62 L161.31 522.14 L161.3 523.67 L161.3 525.2" stroke="#5cee1e"/>
<path d="M159.95 311.2 L159.95 314.02 L159.95 316.84 L159.95 319.66 L159.95 322.48 L159.95 325.3 L159.95 328.12 L159.95 330.94 L159.95 333.76 L159.95 336.59 L159.95 339.41 L159.95 342.23 L159.95 345.05 L159.95 347.87 L159.95 350.69 L159.95 353.51 L159.95 356.33 L159.95 359.15 L159.95 361.97 L159.95 364.79 L159.95 367.61 L159.95 370.43 L159.95 373.25 L159.95 376.07 L159.95 378.89 L159.95 381.71 L159.95 384.53 L159.95 387.35 L159.96 390.17 L159.98 393 L160.01 395.82 L160.04 398.64 L160.08 401.46 L160.13 404.28 L160.19 407.1 L160.28 409.91 L160.43 412.73 L160.63 415.55 L160.87 418.36 L161.13 421.17 L161.42 423.98 L161.77 426.8 L162.19 429.6 L162.69 432.38 L163.29 435.09 L164.09 437.82 L165.13 440.53 L166.36 443.12 L167.73 445.47 L169.41 447.68 L171.46 449.79 L173.71 451.64 L176.03 453.07 L178.49 454.22 L181.13 455.23 L183.88 456.1 L186.68 456.87 L189.44 457.54 L192.18 458.12 L194.94 458.64 L197.72 459.11 L200.52 459.54 L203.32 459.95 L206.12 460.35 L208.92 460.75 L211.71 461.18 L214.5 461.58 L217.3 461.97 L220.1 462.35 L222.89 462.73 L225.68 463.13 L228.47 463.57 L231.24 464.04 L234.03 464.54 L236.82 465.07 L239.59 465.65 L242.34 466.31 L245.02 467.07 L247.64 468.08 L250.18 469.35 L248.85 470.21 L247.5 471.03 L246.12 471.68 L244.69 472.12 L243.23 472.48 L241.74 472.8 L240.22 473.08 L238.68 473.33 L237.13 473.56 L235.57 473.77 L234.01 473.97 L232.45 474.17 L230.9 474.36 L229.37 474.56 L227.83 474.76 L226.29 474.93 L224.75 475.1 L223.21 475.26 L221.67 475.42 L220.13 475.57 L218.58 475.72 L217.04 475.87 L215.5 476.03 L213.96 476.19 L212.42 476.36 L210.88 476.54 L209.35 476.73 L207.82 476.94 L206.28 477.15 L204.74 477.37 L203.21 477.6 L201.67 477.83 L200.13 478.07 L198.59 478.33 L197.06 478.59 L195.53 478.87 L194.01 479.16 L192.49 479.46 L190.98 479.78 L189.48 480.12 L187.98 480.47 L186.5 480.85 L185 481.26 L183.5 481.71 L182 482.2 L180.51 482.73 L179.04 483.29 L177.6 483.9 L176.21 484.54 L174.86 485.23 L173.55 485.96 L172.25 486.8 L170.96 487.74 L169.72 488.76 L168.55 489.85 L167.5 490.98 L166.59 492.15 L165.77 493.39 L164.98 494.73 L164.25 496.15 L163.59 497.61 L163.04 499.09 L162.6 500.57 L162.27 502.05 L161.96 503.54 L161.68 505.06 L161.42 506.6 L161.2 508.15 L161.01 509.71 L160.86 511.26 L160.75 512.82 L160.68 514.36 L160.62 515.9 L160.57 517.45 L160.53 518.99 L160.5 520.54 L160.47 522.09 L160.45 523.65 L160.45 525.2" stroke="#cc161d"/>
<path d="M159.95 311.2 L159.95 314.07 L159.95 316.94 L159.95 319.81 L159.95 322.68 L159.95 325.55 L159.95 328.42 L159.95 331.29 L159.95 334.16 L159.95 337.03 L159.95 339.89 L159.95 342.76 L159.95 345.63 L159.95 348.5 L159.95 351.37 L159.95 354.24 L159.95 357.11 L159.95 359.98 L159.95 362.85 L159.95 365.72 L159.95 368.59 L159.95 371.46 L159.95 374.33 L159.95 377.2 L159.95 380.06 L159.95 382.93 L159.95 385.8 L159.95 388.67 L159.97 391.54 L160 394.41 L160.03 397.28 L160.07 400.15 L160.12 403.02 L160.17 405.89 L160.22 408.76 L160.29 411.63 L160.37 414.5 L160.48 417.37 L160.61 420.23 L160.78 423.09 L161.05 425.96 L161.43 428.83 L161.9 431.67 L162.45 434.46 L163.14 437.24 L164.09 440.03 L165.25 442.71 L166.56 445.18 L168.16 447.48 L170.16 449.67 L172.38 451.62 L174.68 453.19 L177.14 454.54 L179.78 455.75 L182.52 456.81 L185.3 457.71 L188.05 458.46 L190.81 459.1 L193.61 459.68 L196.44 460.21 L199.29 460.69 L202.14 461.14 L205 461.56 L207.84 461.97 L210.68 462.36 L213.53 462.71 L216.38 463.03 L219.24 463.34 L222.09 463.65 L224.95 463.97 L227.79 464.33 L230.63 464.73 L233.47 465.17 L236.31 465.63 L239.15 466.13 L241.97 466.69 L244.76 467.31 L247.53 468.01 L250.24 468.93 L252.92 469.99 L251.45 470.59 L249.98 471.17 L248.49 471.69 L246.99 472.12 L245.47 472.46 L243.94 472.78 L242.4 473.08 L240.85 473.35 L239.29 473.6 L237.73 473.84 L236.16 474.06 L234.59 474.28 L233.03 474.49 L231.46 474.71 L229.9 474.92 L228.34 475.13 L226.78 475.33 L225.22 475.52 L223.65 475.7 L222.09 475.87 L220.52 476.05 L218.95 476.22 L217.39 476.39 L215.82 476.56 L214.26 476.74 L212.69 476.93 L211.13 477.13 L209.57 477.33 L208.02 477.56 L206.46 477.78 L204.89 478.01 L203.33 478.24 L201.77 478.49 L200.21 478.73 L198.65 478.99 L197.09 479.26 L195.53 479.54 L193.99 479.83 L192.44 480.13 L190.9 480.45 L189.37 480.79 L187.85 481.15 L186.34 481.53 L184.81 481.94 L183.27 482.38 L181.74 482.86 L180.22 483.38 L178.72 483.94 L177.26 484.54 L175.84 485.18 L174.48 485.86 L173.16 486.62 L171.84 487.5 L170.54 488.49 L169.31 489.56 L168.16 490.69 L167.14 491.86 L166.25 493.06 L165.39 494.37 L164.58 495.76 L163.85 497.21 L163.21 498.7 L162.71 500.19 L162.34 501.68 L162.03 503.19 L161.75 504.73 L161.5 506.29 L161.28 507.87 L161.09 509.45 L160.92 511.04 L160.79 512.62 L160.68 514.19 L160.57 515.76 L160.47 517.32 L160.39 518.9 L160.31 520.47 L160.25 522.04 L160.21 523.62 L160.2 525.2" stroke="#466af0"/>
</g>
<rect x="159.7" y="311.2" width="99.7" height="214" fill="none" stroke="#2c2c2c" stroke-width="1.5"/>
<text x="157.8" y="315.1" text-anchor="end" class="tk">2</text>
<text x="157.8" y="368.6" text-anchor="end" class="tk">1.5</text>
<text x="157.8" y="422.1" text-anchor="end" class="tk">1</text>
<text x="157.8" y="475.6" text-anchor="end" class="tk">0.5</text>
<text x="157.8" y="530" text-anchor="end" class="tk">0</text>
<text x="159.4" y="536.2" text-anchor="middle" class="tk">0</text>
<text x="184.32" y="536.2" text-anchor="middle" class="tk">0.05</text>
<text x="209.25" y="536.2" text-anchor="middle" class="tk">0.1</text>
<text x="234.17" y="536.2" text-anchor="middle" class="tk">0.15</text>
<text x="259.1" y="536.2" text-anchor="middle" class="tk">0.2</text>
<text x="209.55" y="548.6" text-anchor="middle" class="at">U′/U<tspan class="sb" dy="3.2">j</tspan></text>
<text transform="translate(150.2 419) rotate(-90) scale(1 1.2)" text-anchor="middle" class="ay">y/D<tspan class="sy" dy="2.2">j</tspan></text>
<text x="209.55" y="570.2" text-anchor="middle" class="lb">0.5D<tspan class="ls" dy="4.6">j</tspan></text>
<clipPath id="cb2"><rect x="298.2" y="310.6" width="101.6" height="215.2"/></clipPath>
<path d="M298.8 514.5h3.3M399.2 514.5h-3.3M298.8 503.8h3.3M399.2 503.8h-3.3M298.8 493.1h3.3M399.2 493.1h-3.3M298.8 482.4h3.3M399.2 482.4h-3.3M298.8 461h3.3M399.2 461h-3.3M298.8 450.3h3.3M399.2 450.3h-3.3M298.8 439.6h3.3M399.2 439.6h-3.3M298.8 428.9h3.3M399.2 428.9h-3.3M298.8 407.5h3.3M399.2 407.5h-3.3M298.8 396.8h3.3M399.2 396.8h-3.3M298.8 386.1h3.3M399.2 386.1h-3.3M298.8 375.4h3.3M399.2 375.4h-3.3M298.8 354h3.3M399.2 354h-3.3M298.8 343.3h3.3M399.2 343.3h-3.3M298.8 332.6h3.3M399.2 332.6h-3.3M298.8 321.9h3.3M399.2 321.9h-3.3M303.82 525.2v-3.3M303.82 311.2v3.3M308.84 525.2v-3.3M308.84 311.2v3.3M313.86 525.2v-3.3M313.86 311.2v3.3M318.88 525.2v-3.3M318.88 311.2v3.3M328.92 525.2v-3.3M328.92 311.2v3.3M333.94 525.2v-3.3M333.94 311.2v3.3M338.96 525.2v-3.3M338.96 311.2v3.3M343.98 525.2v-3.3M343.98 311.2v3.3M354.02 525.2v-3.3M354.02 311.2v3.3M359.04 525.2v-3.3M359.04 311.2v3.3M364.06 525.2v-3.3M364.06 311.2v3.3M369.08 525.2v-3.3M369.08 311.2v3.3M379.12 525.2v-3.3M379.12 311.2v3.3M384.14 525.2v-3.3M384.14 311.2v3.3M389.16 525.2v-3.3M389.16 311.2v3.3M394.18 525.2v-3.3M394.18 311.2v3.3" stroke="#9a9a9a" stroke-width="0.9" fill="none"/>
<path d="M298.8 525.2h5.2M399.2 525.2h-5.2M298.8 471.7h5.2M399.2 471.7h-5.2M298.8 418.2h5.2M399.2 418.2h-5.2M298.8 364.7h5.2M399.2 364.7h-5.2M298.8 311.2h5.2M399.2 311.2h-5.2M298.8 525.2v-5.2M298.8 311.2v5.2M323.9 525.2v-5.2M323.9 311.2v5.2M349 525.2v-5.2M349 311.2v5.2M374.1 525.2v-5.2M374.1 311.2v5.2M399.2 525.2v-5.2M399.2 311.2v5.2" stroke="#2c2c2c" stroke-width="1.4" fill="none"/>
<g clip-path="url(#cb2)" fill="none" stroke-width="1.4" stroke-linejoin="round" stroke-linecap="round">
<path d="M299.15 311.2 L299.15 313.2 L299.15 315.2 L299.16 317.2 L299.16 319.2 L299.17 321.2 L299.17 323.2 L299.18 325.2 L299.19 327.2 L299.2 329.19 L299.21 331.19 L299.22 333.19 L299.23 335.19 L299.25 337.19 L299.26 339.19 L299.28 341.18 L299.3 343.18 L299.32 345.18 L299.34 347.18 L299.36 349.17 L299.38 351.17 L299.4 353.17 L299.43 355.16 L299.45 357.16 L299.48 359.16 L299.5 361.15 L299.53 363.15 L299.56 365.15 L299.6 367.14 L299.66 369.14 L299.73 371.14 L299.81 373.14 L299.91 375.14 L300.02 377.14 L300.14 379.14 L300.27 381.14 L300.41 383.13 L300.56 385.12 L300.73 387.11 L300.89 389.09 L301.07 391.07 L301.3 393.06 L301.57 395.04 L301.88 397.03 L302.24 399.01 L302.63 400.98 L303.05 402.93 L303.51 404.88 L303.98 406.8 L304.49 408.75 L305.08 410.74 L305.74 412.72 L306.48 414.64 L307.31 416.43 L308.23 418.04 L309.33 419.49 L310.68 420.86 L312.24 422.16 L313.93 423.39 L315.71 424.53 L317.52 425.6 L319.29 426.57 L321.02 427.47 L322.8 428.29 L324.63 429.06 L326.49 429.78 L328.38 430.46 L330.28 431.13 L332.2 431.79 L334.11 432.44 L336.01 433.11 L337.9 433.81 L339.76 434.53 L341.63 435.24 L343.49 435.95 L345.36 436.66 L347.23 437.38 L349.1 438.09 L350.96 438.81 L352.82 439.53 L354.69 440.25 L356.55 440.98 L358.41 441.71 L360.31 442.41 L362.21 443.1 L364.13 443.79 L366.03 444.48 L367.92 445.2 L369.78 445.95 L371.6 446.74 L373.37 447.59 L375.08 448.51 L376.77 449.51 L378.51 450.61 L380.24 451.81 L381.91 453.1 L383.45 454.47 L384.81 455.91 L385.92 457.42 L386.84 459.03 L387.73 460.82 L388.54 462.74 L389.18 464.73 L389.58 466.74 L389.65 468.7 L389.54 470.76 L389.32 472.85 L389.01 474.85 L388.63 476.62 L387.83 478.25 L386.49 479.81 L384.81 481.24 L383.01 482.46 L381.32 483.42 L379.62 484.21 L377.82 484.92 L375.94 485.57 L374.01 486.15 L372.03 486.69 L370.02 487.2 L368.01 487.68 L366.02 488.14 L364.06 488.61 L362.12 489.05 L360.17 489.46 L358.21 489.84 L356.24 490.2 L354.27 490.56 L352.3 490.92 L350.33 491.28 L348.37 491.66 L346.42 492.07 L344.47 492.51 L342.51 492.95 L340.54 493.39 L338.58 493.84 L336.62 494.31 L334.67 494.81 L332.74 495.33 L330.83 495.89 L328.94 496.5 L327.09 497.15 L325.23 497.88 L323.33 498.71 L321.46 499.63 L319.69 500.64 L318.06 501.75 L316.64 502.95 L315.32 504.36 L314.06 505.99 L312.93 507.76 L311.99 509.6 L311.31 511.42 L310.77 513.25 L310.26 515.13 L309.8 517.05 L309.41 519.02 L309.11 521.03 L308.91 523.09 L308.84 525.2" stroke="#5cee1e"/>
<path d="M299.15 311.2 L299.15 313.18 L299.15 315.15 L299.16 317.13 L299.16 319.11 L299.17 321.08 L299.17 323.06 L299.18 325.03 L299.19 327.01 L299.2 328.99 L299.21 330.96 L299.22 332.94 L299.23 334.91 L299.24 336.88 L299.26 338.86 L299.28 340.83 L299.29 342.81 L299.31 344.78 L299.33 346.75 L299.35 348.73 L299.37 350.7 L299.39 352.67 L299.42 354.64 L299.44 356.62 L299.47 358.59 L299.49 360.56 L299.52 362.53 L299.55 364.5 L299.59 366.48 L299.65 368.45 L299.72 370.43 L299.82 372.4 L299.93 374.38 L300.05 376.36 L300.19 378.33 L300.35 380.3 L300.51 382.27 L300.69 384.24 L300.88 386.2 L301.08 388.16 L301.28 390.11 L301.51 392.07 L301.8 394.03 L302.13 395.99 L302.51 397.94 L302.93 399.89 L303.4 401.82 L303.89 403.73 L304.42 405.62 L304.98 407.48 L305.63 409.35 L306.37 411.23 L307.19 413.1 L308.1 414.91 L309.08 416.64 L310.12 418.27 L311.23 419.76 L312.5 421.18 L313.94 422.53 L315.49 423.83 L317.13 425.06 L318.8 426.21 L320.49 427.28 L322.15 428.28 L323.86 429.2 L325.61 430.07 L327.41 430.89 L329.23 431.67 L331.07 432.43 L332.93 433.18 L334.78 433.92 L336.62 434.66 L338.45 435.42 L340.27 436.18 L342.1 436.93 L343.93 437.66 L345.77 438.39 L347.61 439.11 L349.44 439.83 L351.28 440.56 L353.11 441.29 L354.95 442.03 L356.77 442.78 L358.6 443.53 L360.46 444.26 L362.32 444.98 L364.18 445.71 L366.03 446.45 L367.87 447.21 L369.67 448.01 L371.44 448.86 L373.15 449.76 L374.82 450.73 L376.54 451.78 L378.28 452.91 L379.97 454.12 L381.56 455.4 L382.98 456.76 L384.19 458.2 L385.18 459.73 L386.15 461.45 L387.04 463.33 L387.73 465.27 L388.11 467.23 L388.12 469.17 L387.91 471.23 L387.56 473.24 L387.12 475 L386.28 476.58 L384.91 478.07 L383.22 479.43 L381.43 480.6 L379.74 481.53 L378.04 482.32 L376.25 483.03 L374.39 483.67 L372.48 484.25 L370.53 484.8 L368.56 485.31 L366.59 485.8 L364.64 486.28 L362.72 486.77 L360.8 487.23 L358.88 487.66 L356.95 488.07 L355.01 488.46 L353.07 488.85 L351.13 489.24 L349.2 489.64 L347.27 490.05 L345.34 490.49 L343.41 490.94 L341.48 491.37 L339.53 491.81 L337.59 492.26 L335.66 492.72 L333.74 493.21 L331.83 493.72 L329.95 494.28 L328.1 494.88 L326.26 495.53 L324.37 496.26 L322.46 497.07 L320.58 497.96 L318.81 498.93 L317.21 500 L315.83 501.16 L314.6 502.52 L313.42 504.13 L312.34 505.9 L311.41 507.77 L310.67 509.66 L310.15 511.5 L309.69 513.35 L309.26 515.23 L308.88 517.15 L308.55 519.11 L308.3 521.1 L308.14 523.13 L308.09 525.2" stroke="#cc161d"/>
<path d="M299.15 311.2 L299.15 313.22 L299.15 315.23 L299.16 317.25 L299.16 319.27 L299.17 321.28 L299.17 323.3 L299.18 325.31 L299.19 327.33 L299.2 329.35 L299.21 331.36 L299.22 333.38 L299.24 335.39 L299.25 337.41 L299.27 339.42 L299.28 341.44 L299.3 343.45 L299.32 345.47 L299.34 347.48 L299.36 349.49 L299.38 351.51 L299.41 353.52 L299.43 355.53 L299.46 357.55 L299.48 359.56 L299.51 361.58 L299.54 363.59 L299.57 365.6 L299.61 367.62 L299.67 369.63 L299.75 371.65 L299.83 373.67 L299.94 375.68 L300.05 377.7 L300.17 379.71 L300.31 381.73 L300.46 383.74 L300.61 385.74 L300.78 387.75 L300.95 389.75 L301.14 391.74 L301.39 393.75 L301.68 395.75 L302.01 397.75 L302.38 399.74 L302.79 401.72 L303.23 403.69 L303.69 405.64 L304.18 407.58 L304.73 409.56 L305.35 411.56 L306.06 413.53 L306.84 415.41 L307.72 417.16 L308.69 418.72 L309.9 420.19 L311.32 421.6 L312.91 422.93 L314.62 424.19 L316.38 425.37 L318.16 426.45 L319.88 427.43 L321.63 428.33 L323.43 429.16 L325.27 429.94 L327.16 430.67 L329.07 431.37 L330.99 432.05 L332.92 432.72 L334.85 433.41 L336.75 434.11 L338.63 434.85 L340.5 435.6 L342.37 436.35 L344.24 437.1 L346.11 437.86 L347.98 438.61 L349.85 439.36 L351.72 440.12 L353.59 440.87 L355.46 441.62 L357.33 442.36 L359.22 443.09 L361.14 443.78 L363.06 444.46 L364.99 445.14 L366.91 445.83 L368.8 446.54 L370.67 447.29 L372.5 448.09 L374.27 448.95 L376 449.88 L377.76 450.91 L379.53 452.02 L381.28 453.21 L382.95 454.48 L384.5 455.83 L385.89 457.24 L387.06 458.72 L388.11 460.33 L389.17 462.12 L390.09 464.04 L390.75 466.01 L391.02 467.97 L390.95 470 L390.75 472.13 L390.45 474.16 L390.06 475.9 L389.15 477.48 L387.68 478.98 L385.89 480.33 L384 481.48 L382.24 482.37 L380.49 483.11 L378.65 483.78 L376.75 484.37 L374.79 484.92 L372.79 485.42 L370.76 485.89 L368.74 486.33 L366.72 486.78 L364.73 487.22 L362.76 487.67 L360.79 488.09 L358.82 488.49 L356.84 488.87 L354.86 489.24 L352.87 489.61 L350.89 489.98 L348.91 490.37 L346.94 490.78 L344.98 491.22 L343 491.66 L341.03 492.1 L339.05 492.55 L337.08 493.01 L335.11 493.5 L333.15 494.01 L331.22 494.55 L329.3 495.13 L327.41 495.76 L325.51 496.44 L323.54 497.18 L321.58 498 L319.69 498.9 L317.94 499.9 L316.4 500.99 L315.08 502.24 L313.8 503.77 L312.62 505.52 L311.59 507.4 L310.78 509.32 L310.24 511.2 L309.81 513.07 L309.41 514.99 L309.06 516.95 L308.76 518.95 L308.53 520.99 L308.39 523.07 L308.34 525.2" stroke="#466af0"/>
</g>
<rect x="298.8" y="311.2" width="100.4" height="214" fill="none" stroke="#2c2c2c" stroke-width="1.5"/>
<text x="296.9" y="315.1" text-anchor="end" class="tk">2</text>
<text x="296.9" y="368.6" text-anchor="end" class="tk">1.5</text>
<text x="296.9" y="422.1" text-anchor="end" class="tk">1</text>
<text x="296.9" y="475.6" text-anchor="end" class="tk">0.5</text>
<text x="296.9" y="530" text-anchor="end" class="tk">0</text>
<text x="298.5" y="536.2" text-anchor="middle" class="tk">0</text>
<text x="323.6" y="536.2" text-anchor="middle" class="tk">0.05</text>
<text x="348.7" y="536.2" text-anchor="middle" class="tk">0.1</text>
<text x="373.8" y="536.2" text-anchor="middle" class="tk">0.15</text>
<text x="398.9" y="536.2" text-anchor="middle" class="tk">0.2</text>
<text x="349" y="548.6" text-anchor="middle" class="at">U′/U<tspan class="sb" dy="3.2">j</tspan></text>
<text transform="translate(289.3 419) rotate(-90) scale(1 1.2)" text-anchor="middle" class="ay">y/D<tspan class="sy" dy="2.2">j</tspan></text>
<text x="349" y="570.2" text-anchor="middle" class="lb">0.5D<tspan class="ls" dy="4.6">j</tspan></text>
<clipPath id="cb3"><rect x="437.3" y="310.6" width="101.6" height="215.2"/></clipPath>
<path d="M437.9 514.5h3.3M538.3 514.5h-3.3M437.9 503.8h3.3M538.3 503.8h-3.3M437.9 493.1h3.3M538.3 493.1h-3.3M437.9 482.4h3.3M538.3 482.4h-3.3M437.9 461h3.3M538.3 461h-3.3M437.9 450.3h3.3M538.3 450.3h-3.3M437.9 439.6h3.3M538.3 439.6h-3.3M437.9 428.9h3.3M538.3 428.9h-3.3M437.9 407.5h3.3M538.3 407.5h-3.3M437.9 396.8h3.3M538.3 396.8h-3.3M437.9 386.1h3.3M538.3 386.1h-3.3M437.9 375.4h3.3M538.3 375.4h-3.3M437.9 354h3.3M538.3 354h-3.3M437.9 343.3h3.3M538.3 343.3h-3.3M437.9 332.6h3.3M538.3 332.6h-3.3M437.9 321.9h3.3M538.3 321.9h-3.3M442.92 525.2v-3.3M442.92 311.2v3.3M447.94 525.2v-3.3M447.94 311.2v3.3M452.96 525.2v-3.3M452.96 311.2v3.3M457.98 525.2v-3.3M457.98 311.2v3.3M468.02 525.2v-3.3M468.02 311.2v3.3M473.04 525.2v-3.3M473.04 311.2v3.3M478.06 525.2v-3.3M478.06 311.2v3.3M483.08 525.2v-3.3M483.08 311.2v3.3M493.12 525.2v-3.3M493.12 311.2v3.3M498.14 525.2v-3.3M498.14 311.2v3.3M503.16 525.2v-3.3M503.16 311.2v3.3M508.18 525.2v-3.3M508.18 311.2v3.3M518.22 525.2v-3.3M518.22 311.2v3.3M523.24 525.2v-3.3M523.24 311.2v3.3M528.26 525.2v-3.3M528.26 311.2v3.3M533.28 525.2v-3.3M533.28 311.2v3.3" stroke="#9a9a9a" stroke-width="0.9" fill="none"/>
<path d="M437.9 525.2h5.2M538.3 525.2h-5.2M437.9 471.7h5.2M538.3 471.7h-5.2M437.9 418.2h5.2M538.3 418.2h-5.2M437.9 364.7h5.2M538.3 364.7h-5.2M437.9 311.2h5.2M538.3 311.2h-5.2M437.9 525.2v-5.2M437.9 311.2v5.2M463 525.2v-5.2M463 311.2v5.2M488.1 525.2v-5.2M488.1 311.2v5.2M513.2 525.2v-5.2M513.2 311.2v5.2M538.3 525.2v-5.2M538.3 311.2v5.2" stroke="#2c2c2c" stroke-width="1.4" fill="none"/>
<g clip-path="url(#cb3)" fill="none" stroke-width="1.4" stroke-linejoin="round" stroke-linecap="round">
<path d="M439.02 311.2 L439.05 312.9 L439.1 314.6 L439.15 316.3 L439.22 318 L439.29 319.7 L439.36 321.4 L439.45 323.1 L439.54 324.79 L439.63 326.49 L439.73 328.19 L439.83 329.88 L439.94 331.58 L440.05 333.27 L440.16 334.97 L440.28 336.66 L440.4 338.36 L440.54 340.06 L440.69 341.75 L440.85 343.45 L441.02 345.14 L441.2 346.83 L441.4 348.52 L441.6 350.21 L441.82 351.89 L442.06 353.56 L442.32 355.24 L442.61 356.93 L442.93 358.61 L443.29 360.29 L443.67 361.96 L444.08 363.62 L444.53 365.26 L445 366.87 L445.51 368.46 L446.09 370.03 L446.75 371.59 L447.48 373.14 L448.27 374.67 L449.11 376.18 L449.98 377.66 L450.88 379.12 L451.79 380.55 L452.71 381.95 L453.67 383.37 L454.68 384.78 L455.73 386.17 L456.82 387.52 L457.95 388.83 L459.12 390.06 L460.33 391.21 L461.58 392.25 L462.91 393.21 L464.33 394.1 L465.81 394.94 L467.34 395.74 L468.89 396.52 L470.44 397.3 L471.97 398.09 L473.48 398.88 L475.02 399.63 L476.58 400.36 L478.15 401.08 L479.72 401.8 L481.25 402.55 L482.75 403.34 L484.2 404.17 L485.57 405.08 L486.9 406.08 L488.2 407.17 L489.47 408.33 L490.71 409.55 L491.9 410.81 L493.03 412.1 L494.11 413.42 L495.12 414.74 L496.06 416.12 L496.95 417.55 L497.8 419.02 L498.62 420.52 L499.42 422.04 L500.22 423.56 L501.02 425.08 L501.83 426.58 L502.67 428.06 L503.51 429.55 L504.33 431.04 L505.15 432.53 L505.98 434.02 L506.81 435.5 L507.66 436.97 L508.53 438.43 L509.42 439.87 L510.34 441.29 L511.31 442.69 L512.32 444.06 L513.35 445.42 L514.39 446.78 L515.43 448.13 L516.44 449.5 L517.43 450.88 L518.37 452.29 L519.26 453.73 L520.18 455.18 L521.15 456.64 L522.11 458.12 L523.04 459.62 L523.89 461.13 L524.62 462.67 L525.2 464.23 L525.59 465.81 L525.82 467.43 L526.01 469.12 L526.18 470.85 L526.31 472.58 L526.38 474.28 L526.39 475.93 L526.13 477.58 L525.61 479.23 L524.89 480.85 L524.06 482.42 L523.2 483.91 L522.35 485.3 L521.39 486.63 L520.3 487.9 L519.09 489.14 L517.82 490.33 L516.49 491.48 L515.15 492.6 L513.83 493.68 L512.52 494.74 L511.18 495.76 L509.81 496.74 L508.41 497.69 L506.98 498.62 L505.54 499.54 L504.09 500.44 L502.64 501.34 L501.18 502.25 L499.74 503.15 L498.3 504.08 L496.88 505.02 L495.46 505.97 L494.02 506.9 L492.56 507.82 L491.1 508.73 L489.64 509.65 L488.19 510.59 L486.77 511.55 L485.39 512.53 L484.06 513.56 L482.79 514.62 L481.58 515.75 L480.43 516.93 L479.32 518.19 L478.24 519.5 L477.21 520.86 L476.21 522.27 L475.26 523.72 L474.34 525.2" stroke="#5cee1e"/>
<path d="M439.02 311.2 L439.05 312.89 L439.1 314.58 L439.15 316.26 L439.21 317.95 L439.28 319.64 L439.36 321.32 L439.44 323.01 L439.53 324.69 L439.62 326.37 L439.72 328.06 L439.82 329.74 L439.93 331.42 L440.04 333.11 L440.15 334.79 L440.26 336.47 L440.38 338.16 L440.51 339.85 L440.65 341.54 L440.8 343.23 L440.96 344.91 L441.14 346.59 L441.33 348.27 L441.54 349.94 L441.77 351.6 L442.01 353.25 L442.31 354.89 L442.67 356.54 L443.08 358.19 L443.55 359.82 L444.06 361.45 L444.61 363.06 L445.18 364.66 L445.78 366.24 L446.39 367.79 L447.04 369.32 L447.75 370.84 L448.52 372.34 L449.35 373.83 L450.21 375.29 L451.11 376.74 L452.03 378.17 L452.97 379.58 L453.92 380.97 L454.89 382.33 L455.9 383.67 L456.96 384.98 L458.04 386.28 L459.15 387.57 L460.27 388.84 L461.41 390.1 L462.54 391.35 L463.68 392.59 L464.82 393.82 L465.98 395.05 L467.16 396.26 L468.34 397.47 L469.53 398.66 L470.74 399.85 L471.95 401.03 L473.17 402.19 L474.39 403.35 L475.63 404.5 L476.87 405.64 L478.12 406.77 L479.38 407.88 L480.66 408.98 L481.94 410.08 L483.24 411.17 L484.53 412.25 L485.83 413.33 L487.13 414.41 L488.42 415.49 L489.71 416.58 L491.03 417.64 L492.36 418.69 L493.71 419.73 L495.05 420.77 L496.37 421.83 L497.66 422.91 L498.92 424.02 L500.12 425.18 L501.28 426.38 L502.42 427.62 L503.53 428.91 L504.61 430.23 L505.65 431.57 L506.64 432.94 L507.57 434.34 L508.44 435.76 L509.25 437.22 L510.01 438.72 L510.75 440.25 L511.47 441.79 L512.18 443.33 L512.91 444.86 L513.66 446.37 L514.44 447.87 L515.24 449.36 L516.03 450.86 L516.82 452.36 L517.58 453.86 L518.29 455.39 L518.95 456.93 L519.62 458.49 L520.33 460.06 L521.04 461.65 L521.68 463.25 L522.2 464.86 L522.56 466.49 L522.68 468.13 L522.68 469.8 L522.68 471.51 L522.68 473.25 L522.68 474.97 L522.68 476.67 L522.68 478.31 L522.64 479.88 L522.24 481.45 L521.5 483.01 L520.51 484.52 L519.38 485.96 L518.21 487.3 L517.09 488.5 L515.96 489.58 L514.71 490.58 L513.35 491.52 L511.92 492.42 L510.42 493.27 L508.89 494.1 L507.34 494.91 L505.79 495.73 L504.26 496.56 L502.78 497.42 L501.34 498.31 L499.9 499.19 L498.45 500.07 L497.01 500.94 L495.56 501.81 L494.12 502.69 L492.68 503.57 L491.25 504.47 L489.83 505.38 L488.43 506.3 L487.03 507.25 L485.62 508.19 L484.17 509.13 L482.72 510.08 L481.28 511.05 L479.87 512.04 L478.52 513.06 L477.23 514.13 L476.05 515.25 L474.97 516.44 L473.97 517.71 L473.03 519.07 L472.15 520.51 L471.33 522.02 L470.57 523.59 L469.88 525.2" stroke="#cc161d"/>
<path d="M439.76 311.2 L439.8 312.88 L439.84 314.56 L439.89 316.24 L439.96 317.92 L440.03 319.59 L440.1 321.27 L440.18 322.95 L440.27 324.63 L440.36 326.3 L440.46 327.98 L440.56 329.65 L440.67 331.33 L440.77 333 L440.88 334.67 L440.99 336.35 L441.11 338.03 L441.24 339.72 L441.37 341.41 L441.51 343.09 L441.67 344.78 L441.84 346.45 L442.03 348.12 L442.24 349.78 L442.47 351.42 L442.72 353.05 L443.03 354.67 L443.43 356.3 L443.92 357.93 L444.47 359.55 L445.08 361.15 L445.75 362.73 L446.45 364.28 L447.19 365.79 L447.94 367.26 L448.73 368.67 L449.64 370.02 L450.66 371.33 L451.76 372.6 L452.91 373.85 L454.09 375.1 L455.27 376.35 L456.41 377.62 L457.49 378.91 L458.5 380.25 L459.49 381.6 L460.46 382.98 L461.42 384.36 L462.37 385.74 L463.32 387.13 L464.28 388.51 L465.26 389.87 L466.26 391.22 L467.29 392.54 L468.33 393.85 L469.39 395.15 L470.46 396.44 L471.55 397.73 L472.64 399 L473.75 400.27 L474.87 401.53 L475.99 402.77 L477.12 404.01 L478.26 405.25 L479.41 406.46 L480.57 407.67 L481.75 408.86 L482.94 410.05 L484.14 411.23 L485.34 412.4 L486.54 413.57 L487.75 414.74 L488.95 415.92 L490.15 417.09 L491.34 418.28 L492.54 419.45 L493.76 420.62 L494.98 421.78 L496.21 422.93 L497.43 424.09 L498.65 425.26 L499.85 426.44 L501.03 427.63 L502.18 428.84 L503.3 430.08 L504.38 431.34 L505.43 432.63 L506.46 433.95 L507.47 435.29 L508.47 436.65 L509.44 438.03 L510.4 439.42 L511.34 440.82 L512.26 442.23 L513.17 443.64 L514.08 445.05 L515.03 446.46 L515.99 447.88 L516.94 449.31 L517.85 450.75 L518.71 452.21 L519.5 453.69 L520.18 455.19 L520.75 456.72 L521.23 458.28 L521.7 459.88 L522.16 461.5 L522.58 463.15 L522.97 464.82 L523.3 466.49 L523.55 468.17 L523.72 469.85 L523.8 471.51 L523.77 473.19 L523.65 474.91 L523.46 476.63 L523.21 478.32 L522.92 479.94 L522.58 481.46 L521.94 482.92 L521 484.33 L519.86 485.68 L518.63 486.97 L517.41 488.18 L516.23 489.31 L514.99 490.39 L513.68 491.41 L512.32 492.4 L510.92 493.36 L509.5 494.29 L508.06 495.21 L506.62 496.12 L505.19 497.03 L503.78 497.96 L502.38 498.87 L500.96 499.77 L499.53 500.65 L498.09 501.52 L496.65 502.39 L495.22 503.26 L493.78 504.13 L492.35 505.01 L490.93 505.91 L489.53 506.82 L488.12 507.74 L486.67 508.65 L485.21 509.56 L483.74 510.47 L482.29 511.39 L480.87 512.34 L479.51 513.33 L478.22 514.36 L477.02 515.45 L475.93 516.6 L474.9 517.85 L473.93 519.19 L473.01 520.6 L472.16 522.08 L471.36 523.62 L470.62 525.2" stroke="#466af0"/>
</g>
<rect x="437.9" y="311.2" width="100.4" height="214" fill="none" stroke="#2c2c2c" stroke-width="1.5"/>
<text x="436" y="315.1" text-anchor="end" class="tk">2</text>
<text x="436" y="368.6" text-anchor="end" class="tk">1.5</text>
<text x="436" y="422.1" text-anchor="end" class="tk">1</text>
<text x="436" y="475.6" text-anchor="end" class="tk">0.5</text>
<text x="436" y="530" text-anchor="end" class="tk">0</text>
<text x="437.6" y="536.2" text-anchor="middle" class="tk">0</text>
<text x="462.7" y="536.2" text-anchor="middle" class="tk">0.05</text>
<text x="487.8" y="536.2" text-anchor="middle" class="tk">0.1</text>
<text x="512.9" y="536.2" text-anchor="middle" class="tk">0.15</text>
<text x="538" y="536.2" text-anchor="middle" class="tk">0.2</text>
<text x="488.1" y="548.6" text-anchor="middle" class="at">U′/U<tspan class="sb" dy="3.2">j</tspan></text>
<text transform="translate(428.4 419) rotate(-90) scale(1 1.2)" text-anchor="middle" class="ay">y/D<tspan class="sy" dy="2.2">j</tspan></text>
<text x="488.1" y="570.2" text-anchor="middle" class="lb">0.5D<tspan class="ls" dy="4.6">j</tspan></text>
<clipPath id="cb4"><rect x="576.4" y="310.6" width="101.4" height="215.2"/></clipPath>
<path d="M577 514.5h3.3M677.2 514.5h-3.3M577 503.8h3.3M677.2 503.8h-3.3M577 493.1h3.3M677.2 493.1h-3.3M577 482.4h3.3M677.2 482.4h-3.3M577 461h3.3M677.2 461h-3.3M577 450.3h3.3M677.2 450.3h-3.3M577 439.6h3.3M677.2 439.6h-3.3M577 428.9h3.3M677.2 428.9h-3.3M577 407.5h3.3M677.2 407.5h-3.3M577 396.8h3.3M677.2 396.8h-3.3M577 386.1h3.3M677.2 386.1h-3.3M577 375.4h3.3M677.2 375.4h-3.3M577 354h3.3M677.2 354h-3.3M577 343.3h3.3M677.2 343.3h-3.3M577 332.6h3.3M677.2 332.6h-3.3M577 321.9h3.3M677.2 321.9h-3.3M582.01 525.2v-3.3M582.01 311.2v3.3M587.02 525.2v-3.3M587.02 311.2v3.3M592.03 525.2v-3.3M592.03 311.2v3.3M597.04 525.2v-3.3M597.04 311.2v3.3M607.06 525.2v-3.3M607.06 311.2v3.3M612.07 525.2v-3.3M612.07 311.2v3.3M617.08 525.2v-3.3M617.08 311.2v3.3M622.09 525.2v-3.3M622.09 311.2v3.3M632.11 525.2v-3.3M632.11 311.2v3.3M637.12 525.2v-3.3M637.12 311.2v3.3M642.13 525.2v-3.3M642.13 311.2v3.3M647.14 525.2v-3.3M647.14 311.2v3.3M657.16 525.2v-3.3M657.16 311.2v3.3M662.17 525.2v-3.3M662.17 311.2v3.3M667.18 525.2v-3.3M667.18 311.2v3.3M672.19 525.2v-3.3M672.19 311.2v3.3" stroke="#9a9a9a" stroke-width="0.9" fill="none"/>
<path d="M577 525.2h5.2M677.2 525.2h-5.2M577 471.7h5.2M677.2 471.7h-5.2M577 418.2h5.2M677.2 418.2h-5.2M577 364.7h5.2M677.2 364.7h-5.2M577 311.2h5.2M677.2 311.2h-5.2M577 525.2v-5.2M577 311.2v5.2M602.05 525.2v-5.2M602.05 311.2v5.2M627.1 525.2v-5.2M627.1 311.2v5.2M652.15 525.2v-5.2M652.15 311.2v5.2M677.2 525.2v-5.2M677.2 311.2v5.2" stroke="#2c2c2c" stroke-width="1.4" fill="none"/>
<g clip-path="url(#cb4)" fill="none" stroke-width="1.4" stroke-linejoin="round" stroke-linecap="round">
<path d="M595.18 311.2 L595.76 312.5 L596.33 313.8 L596.89 315.11 L597.45 316.42 L598.01 317.72 L598.56 319.03 L599.11 320.35 L599.65 321.66 L600.19 322.97 L600.72 324.29 L601.25 325.61 L601.78 326.93 L602.3 328.25 L602.8 329.58 L603.3 330.91 L603.79 332.25 L604.27 333.58 L604.76 334.92 L605.24 336.26 L605.73 337.59 L606.23 338.92 L606.74 340.25 L607.26 341.57 L607.8 342.88 L608.34 344.19 L608.9 345.5 L609.46 346.81 L610.02 348.11 L610.6 349.41 L611.18 350.71 L611.76 352.01 L612.35 353.3 L612.95 354.59 L613.55 355.88 L614.15 357.17 L614.75 358.46 L615.36 359.74 L615.99 361.02 L616.62 362.29 L617.26 363.56 L617.91 364.82 L618.56 366.09 L619.21 367.35 L619.86 368.62 L620.5 369.88 L621.14 371.16 L621.76 372.43 L622.37 373.71 L622.97 375 L623.57 376.29 L624.16 377.58 L624.74 378.88 L625.32 380.18 L625.89 381.48 L626.47 382.78 L627.04 384.08 L627.6 385.38 L628.17 386.69 L628.74 387.99 L629.3 389.3 L629.87 390.6 L630.44 391.9 L631 393.21 L631.56 394.51 L632.12 395.82 L632.68 397.13 L633.24 398.43 L633.79 399.74 L634.35 401.05 L634.91 402.35 L635.47 403.66 L636.07 404.96 L636.68 406.25 L637.32 407.55 L637.95 408.84 L638.56 410.13 L639.15 411.43 L639.7 412.74 L640.19 414.06 L640.62 415.39 L640.97 416.74 L641.27 418.12 L641.52 419.53 L641.73 420.94 L641.93 422.37 L642.12 423.8 L642.32 425.23 L642.53 426.65 L642.76 428.05 L643.04 429.43 L643.37 430.77 L643.82 432.08 L644.49 433.35 L645.28 434.59 L646.12 435.81 L646.92 437.05 L647.61 438.3 L648.1 439.58 L648.35 440.91 L648.55 442.28 L648.73 443.68 L648.89 445.11 L649.04 446.55 L649.16 448 L649.25 449.44 L649.32 450.88 L649.36 452.29 L649.35 453.68 L649.12 455.04 L648.66 456.39 L648.05 457.72 L647.39 459.06 L646.73 460.39 L646.18 461.73 L645.79 463.08 L645.66 464.46 L645.67 465.84 L645.7 467.25 L645.76 468.66 L645.83 470.08 L645.91 471.5 L645.99 472.93 L646.09 474.37 L646.18 475.8 L646.28 477.23 L646.36 478.65 L646.45 480.07 L646.56 481.49 L646.68 482.92 L646.81 484.34 L646.93 485.76 L647.03 487.18 L647.1 488.59 L647.14 490 L647.08 491.4 L646.86 492.79 L646.51 494.17 L646.08 495.54 L645.62 496.92 L645.19 498.3 L644.83 499.68 L644.58 501.07 L644.46 502.47 L644.34 503.87 L644.24 505.28 L644.13 506.68 L644.04 508.09 L643.94 509.5 L643.86 510.92 L643.78 512.33 L643.71 513.75 L643.65 515.17 L643.59 516.6 L643.54 518.02 L643.5 519.45 L643.47 520.88 L643.45 522.32 L643.43 523.76 L643.43 525.2" stroke="#5cee1e"/>
<path d="M591.47 311.2 L592.01 312.51 L592.54 313.82 L593.08 315.13 L593.62 316.44 L594.17 317.74 L594.71 319.05 L595.26 320.35 L595.81 321.66 L596.36 322.96 L596.91 324.26 L597.47 325.56 L598.03 326.86 L598.59 328.16 L599.15 329.46 L599.7 330.76 L600.26 332.07 L600.82 333.37 L601.38 334.67 L601.94 335.97 L602.51 337.26 L603.09 338.56 L603.67 339.84 L604.27 341.13 L604.88 342.4 L605.49 343.67 L606.13 344.93 L606.79 346.18 L607.47 347.42 L608.17 348.65 L608.88 349.87 L609.6 351.1 L610.32 352.32 L611.04 353.54 L611.76 354.77 L612.46 356 L613.15 357.23 L613.82 358.48 L614.46 359.73 L615.08 361 L615.66 362.28 L616.22 363.59 L616.76 364.9 L617.29 366.22 L617.81 367.54 L618.34 368.85 L618.88 370.16 L619.45 371.46 L620.04 372.73 L620.67 373.99 L621.38 375.22 L622.14 376.43 L622.94 377.62 L623.76 378.8 L624.56 379.99 L625.33 381.19 L626.04 382.4 L626.68 383.64 L627.2 384.91 L627.66 386.21 L628.08 387.54 L628.46 388.89 L628.82 390.26 L629.15 391.64 L629.47 393.03 L629.79 394.43 L630.11 395.83 L630.44 397.22 L630.78 398.6 L631.15 399.98 L631.55 401.33 L632 402.67 L632.47 404 L632.98 405.32 L633.5 406.64 L634.04 407.95 L634.58 409.27 L635.11 410.58 L635.63 411.9 L636.13 413.22 L636.6 414.56 L637.04 415.9 L637.45 417.25 L637.85 418.6 L638.24 419.96 L638.62 421.33 L638.99 422.7 L639.35 424.07 L639.69 425.45 L640.01 426.83 L640.31 428.21 L640.58 429.6 L640.83 430.99 L641.05 432.38 L641.25 433.78 L641.43 435.18 L641.6 436.58 L641.75 437.99 L641.91 439.4 L642.06 440.81 L642.22 442.22 L642.39 443.62 L642.57 445.03 L642.78 446.43 L643.04 447.82 L643.33 449.22 L643.64 450.61 L643.94 452 L644.21 453.4 L644.41 454.79 L644.52 456.19 L644.53 457.59 L644.44 459 L644.29 460.4 L644.09 461.81 L643.88 463.22 L643.68 464.63 L643.53 466.04 L643.44 467.45 L643.44 468.86 L643.54 470.26 L643.7 471.67 L643.9 473.08 L644.11 474.49 L644.3 475.89 L644.46 477.3 L644.54 478.71 L644.53 480.12 L644.47 481.53 L644.37 482.94 L644.23 484.35 L644.08 485.76 L643.92 487.17 L643.77 488.58 L643.63 489.99 L643.52 491.4 L643.45 492.82 L643.43 494.23 L643.43 495.64 L643.43 497.06 L643.43 498.48 L643.43 499.9 L643.43 501.31 L643.43 502.73 L643.43 504.14 L643.42 505.54 L643.3 506.94 L643.06 508.34 L642.75 509.73 L642.4 511.12 L642.07 512.51 L641.79 513.91 L641.61 515.31 L641.57 516.71 L641.57 518.12 L641.57 519.53 L641.57 520.94 L641.57 522.36 L641.57 523.78 L641.57 525.2" stroke="#cc161d"/>
<path d="M592.59 311.2 L593.04 312.55 L593.5 313.89 L593.96 315.24 L594.42 316.58 L594.88 317.92 L595.35 319.26 L595.82 320.6 L596.29 321.94 L596.77 323.28 L597.24 324.62 L597.72 325.96 L598.21 327.29 L598.69 328.63 L599.16 329.97 L599.64 331.31 L600.12 332.65 L600.61 333.98 L601.09 335.32 L601.59 336.65 L602.1 337.98 L602.61 339.3 L603.15 340.61 L603.69 341.92 L604.26 343.22 L604.84 344.51 L605.45 345.79 L606.06 347.07 L606.69 348.34 L607.34 349.61 L607.99 350.87 L608.64 352.13 L609.3 353.39 L609.96 354.65 L610.62 355.91 L611.28 357.18 L611.94 358.44 L612.58 359.7 L613.22 360.97 L613.89 362.24 L614.57 363.49 L615.28 364.75 L615.98 366 L616.69 367.25 L617.38 368.51 L618.04 369.77 L618.68 371.04 L619.27 372.32 L619.8 373.62 L620.28 374.93 L620.69 376.26 L621.04 377.63 L621.35 379.01 L621.63 380.42 L621.9 381.83 L622.17 383.24 L622.45 384.64 L622.76 386.03 L623.11 387.4 L623.52 388.74 L624 390.05 L624.54 391.34 L625.15 392.63 L625.79 393.9 L626.46 395.16 L627.15 396.42 L627.83 397.68 L628.51 398.94 L629.16 400.22 L629.78 401.5 L630.38 402.79 L630.97 404.07 L631.57 405.36 L632.16 406.66 L632.75 407.95 L633.34 409.24 L633.92 410.54 L634.5 411.84 L635.07 413.14 L635.63 414.44 L636.18 415.75 L636.73 417.06 L637.27 418.37 L637.79 419.69 L638.31 421.01 L638.83 422.34 L639.33 423.67 L639.83 425 L640.32 426.33 L640.81 427.66 L641.3 429 L641.78 430.33 L642.26 431.67 L642.74 433.01 L643.24 434.34 L643.75 435.68 L644.26 437.01 L644.78 438.34 L645.28 439.68 L645.76 441.02 L646.21 442.37 L646.62 443.72 L646.97 445.08 L647.27 446.46 L647.54 447.84 L647.79 449.23 L648.03 450.63 L648.24 452.04 L648.45 453.45 L648.64 454.86 L648.83 456.28 L649.01 457.69 L649.18 459.1 L649.35 460.52 L649.52 461.93 L649.71 463.34 L649.9 464.75 L650.09 466.17 L650.27 467.58 L650.44 469 L650.58 470.42 L650.7 471.83 L650.79 473.24 L650.84 474.65 L650.84 476.06 L650.73 477.46 L650.51 478.86 L650.22 480.25 L649.88 481.65 L649.52 483.04 L649.16 484.44 L648.82 485.84 L648.54 487.23 L648.35 488.64 L648.26 490.04 L648.25 491.46 L648.25 492.88 L648.25 494.3 L648.25 495.73 L648.25 497.16 L648.25 498.58 L648.25 500 L648.25 501.4 L648.17 502.8 L647.93 504.19 L647.58 505.57 L647.17 506.94 L646.72 508.32 L646.3 509.69 L645.93 511.08 L645.67 512.47 L645.49 513.87 L645.32 515.27 L645.15 516.68 L645 518.09 L644.86 519.5 L644.74 520.92 L644.65 522.34 L644.58 523.77 L644.54 525.2" stroke="#466af0"/>
</g>
<rect x="577" y="311.2" width="100.2" height="214" fill="none" stroke="#2c2c2c" stroke-width="1.5"/>
<text x="575.1" y="315.1" text-anchor="end" class="tk">2</text>
<text x="575.1" y="368.6" text-anchor="end" class="tk">1.5</text>
<text x="575.1" y="422.1" text-anchor="end" class="tk">1</text>
<text x="575.1" y="475.6" text-anchor="end" class="tk">0.5</text>
<text x="575.1" y="530" text-anchor="end" class="tk">0</text>
<text x="576.7" y="536.2" text-anchor="middle" class="tk">0</text>
<text x="601.75" y="536.2" text-anchor="middle" class="tk">0.05</text>
<text x="626.8" y="536.2" text-anchor="middle" class="tk">0.1</text>
<text x="651.85" y="536.2" text-anchor="middle" class="tk">0.15</text>
<text x="676.9" y="536.2" text-anchor="middle" class="tk">0.2</text>
<text x="627.1" y="548.6" text-anchor="middle" class="at">U′/U<tspan class="sb" dy="3.2">j</tspan></text>
<text transform="translate(567.5 419) rotate(-90) scale(1 1.2)" text-anchor="middle" class="ay">y/D<tspan class="sy" dy="2.2">j</tspan></text>
<text x="627.1" y="570.2" text-anchor="middle" class="lb">0.5D<tspan class="ls" dy="4.6">j</tspan></text>
<path d="M26.9 22.3H70.6" stroke="#cc161d" stroke-width="1.3"/>
<text x="77.9" y="25.6" class="lg">Baseline</text>
<path d="M26.9 34.1H70.6" stroke="#5cee1e" stroke-width="1.3"/>
<text x="77.9" y="37.4" class="lg">Case 1</text>
<path d="M26.9 46H70.6" stroke="#466af0" stroke-width="1.3"/>
<text x="77.9" y="49.3" class="lg">Case 2</text>
<path d="M25.8 329.2H69.5" stroke="#cc161d" stroke-width="1.3"/>
<text x="77" y="332.5" class="lg">Baseline</text>
<path d="M25.8 340.9H69.5" stroke="#5cee1e" stroke-width="1.3"/>
<text x="77" y="344.2" class="lg">Case 1</text>
<path d="M25.8 352.7H69.5" stroke="#466af0" stroke-width="1.3"/>
<text x="77" y="356" class="lg">Case 2</text>
<text x="344" y="297.8" text-anchor="middle" class="cp">(a) mean radial flow velocity</text>
<text x="344.5" y="603.6" text-anchor="middle" class="cp">(b) fluctuations of radial velocity</text>
</svg>
</body>
</html>
